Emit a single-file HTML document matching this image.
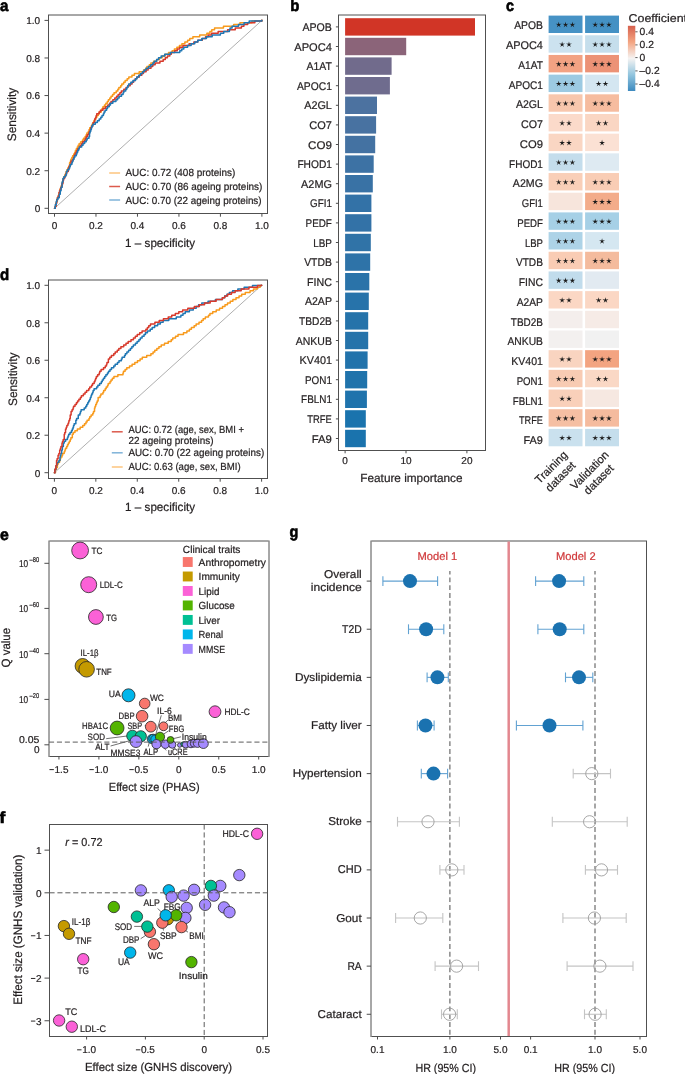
<!DOCTYPE html>
<html><head><meta charset="utf-8"><title>Figure</title>
<style>
html,body{margin:0;padding:0;background:#fff;}
body{width:685px;height:1074px;overflow:hidden;}
svg{display:block;will-change:transform;}
text{font-family:"Liberation Sans", sans-serif;text-rendering:geometricPrecision;}
</style></head><body>
<svg width="685" height="1074" viewBox="0 0 685 1074">
<rect x="0" y="0" width="685" height="1074" fill="#fff"/>
<line x1="48.50" y1="14.50" x2="48.50" y2="214.00" stroke="#505050" stroke-width="1" />
<line x1="267.50" y1="14.50" x2="267.50" y2="214.00" stroke="#505050" stroke-width="1" />
<line x1="49.00" y1="15.00" x2="267.00" y2="15.00" stroke="#505050" stroke-width="1" />
<line x1="49.00" y1="213.50" x2="267.00" y2="213.50" stroke="#505050" stroke-width="1" />
<line x1="44.50" y1="208.30" x2="48.50" y2="208.30" stroke="#4d4d4d" stroke-width="1" />
<text x="40.20" y="212.18" font-size="10" text-anchor="end" fill="#231f20" stroke="#231f20" stroke-width="0.22" >0</text>
<line x1="54.50" y1="213.50" x2="54.50" y2="216.70" stroke="#4d4d4d" stroke-width="1" />
<text x="54.50" y="228.88" font-size="10" text-anchor="middle" fill="#231f20" stroke="#231f20" stroke-width="0.22" >0</text>
<line x1="44.50" y1="170.72" x2="48.50" y2="170.72" stroke="#4d4d4d" stroke-width="1" />
<text x="40.20" y="174.60" font-size="10" text-anchor="end" fill="#231f20" stroke="#231f20" stroke-width="0.22" >0.2</text>
<line x1="95.98" y1="213.50" x2="95.98" y2="216.70" stroke="#4d4d4d" stroke-width="1" />
<text x="95.98" y="228.88" font-size="10" text-anchor="middle" fill="#231f20" stroke="#231f20" stroke-width="0.22" >0.2</text>
<line x1="44.50" y1="133.14" x2="48.50" y2="133.14" stroke="#4d4d4d" stroke-width="1" />
<text x="40.20" y="137.02" font-size="10" text-anchor="end" fill="#231f20" stroke="#231f20" stroke-width="0.22" >0.4</text>
<line x1="137.46" y1="213.50" x2="137.46" y2="216.70" stroke="#4d4d4d" stroke-width="1" />
<text x="137.46" y="228.88" font-size="10" text-anchor="middle" fill="#231f20" stroke="#231f20" stroke-width="0.22" >0.4</text>
<line x1="44.50" y1="95.56" x2="48.50" y2="95.56" stroke="#4d4d4d" stroke-width="1" />
<text x="40.20" y="99.44" font-size="10" text-anchor="end" fill="#231f20" stroke="#231f20" stroke-width="0.22" >0.6</text>
<line x1="178.94" y1="213.50" x2="178.94" y2="216.70" stroke="#4d4d4d" stroke-width="1" />
<text x="178.94" y="228.88" font-size="10" text-anchor="middle" fill="#231f20" stroke="#231f20" stroke-width="0.22" >0.6</text>
<line x1="44.50" y1="57.98" x2="48.50" y2="57.98" stroke="#4d4d4d" stroke-width="1" />
<text x="40.20" y="61.86" font-size="10" text-anchor="end" fill="#231f20" stroke="#231f20" stroke-width="0.22" >0.8</text>
<line x1="220.42" y1="213.50" x2="220.42" y2="216.70" stroke="#4d4d4d" stroke-width="1" />
<text x="220.42" y="228.88" font-size="10" text-anchor="middle" fill="#231f20" stroke="#231f20" stroke-width="0.22" >0.8</text>
<line x1="44.50" y1="20.40" x2="48.50" y2="20.40" stroke="#4d4d4d" stroke-width="1" />
<text x="40.20" y="24.28" font-size="10" text-anchor="end" fill="#231f20" stroke="#231f20" stroke-width="0.22" >1.0</text>
<line x1="261.90" y1="213.50" x2="261.90" y2="216.70" stroke="#4d4d4d" stroke-width="1" />
<text x="261.90" y="228.88" font-size="10" text-anchor="middle" fill="#231f20" stroke="#231f20" stroke-width="0.22" >1.0</text>
<line x1="54.50" y1="208.30" x2="261.90" y2="20.40" stroke="#a6a6a6" stroke-width="0.9" />
<polyline points="54.50,208.30 55.09,208.30 55.09,206.55 55.87,206.55 55.87,203.05 56.54,203.05 56.54,201.30 57.35,201.30 57.35,197.80 58.18,197.80 58.18,196.05 58.67,196.05 58.67,194.30 59.13,194.30 59.13,192.55 60.08,192.55 60.08,189.05 60.68,189.05 60.68,187.30 61.27,187.30 61.27,185.55 62.32,185.55 62.32,182.05 63.05,182.05 63.05,178.55 64.01,178.55 64.01,176.80 64.74,176.80 64.74,175.05 65.58,175.05 65.58,173.30 66.12,173.30 66.12,171.55 66.95,171.55 66.95,169.80 67.92,169.80 67.92,168.05 68.68,168.05 68.68,166.30 69.58,166.30 69.58,162.80 70.43,162.80 70.43,161.05 70.92,161.05 70.92,159.30 71.82,159.30 71.82,157.55 72.63,157.55 72.63,155.80 73.73,155.80 73.73,154.05 74.70,154.05 74.70,152.30 75.43,152.30 75.43,150.55 76.31,150.55 76.31,148.80 77.29,148.80 77.29,147.05 78.17,147.05 78.17,145.30 79.17,145.30 79.17,143.55 80.79,143.55 80.79,141.80 82.51,141.80 82.51,140.05 83.49,140.05 83.49,138.30 85.11,138.30 85.11,136.55 86.14,136.55 86.14,134.80 86.85,134.80 86.85,133.05 88.31,133.05 88.31,131.30 89.06,131.30 89.06,129.55 89.75,129.55 89.75,127.80 91.21,127.80 91.21,126.05 92.01,126.05 92.01,124.30 93.00,124.30 93.00,122.55 93.86,122.55 93.86,120.80 94.87,120.80 94.87,119.05 95.83,119.05 95.83,117.30 96.88,117.30 96.88,115.55 98.28,115.55 98.28,113.80 99.24,113.80 99.24,112.05 101.26,112.05 101.26,110.30 102.06,110.30 102.06,108.55 102.93,108.55 102.93,106.80 104.46,106.80 104.46,105.05 105.87,105.05 105.87,103.30 107.33,103.30 107.33,101.55 108.37,101.55 108.37,99.80 109.80,99.80 109.80,98.05 111.04,98.05 111.04,96.30 112.58,96.30 112.58,94.55 114.03,94.55 114.03,92.80 116.20,92.80 116.20,91.05 117.83,91.05 117.83,89.30 118.87,89.30 118.87,87.55 120.67,87.55 120.67,85.80 121.80,85.80 121.80,84.05 123.65,84.05 123.65,82.30 125.16,82.30 125.16,80.55 127.15,80.55 127.15,78.80 128.82,78.80 128.82,77.05 131.97,77.05 131.97,75.30 134.40,75.30 134.40,73.55 139.17,73.55 139.17,71.80 143.54,71.80 143.54,70.05 145.62,70.05 145.62,68.30 146.93,68.30 146.93,66.55 149.35,66.55 149.35,64.80 150.88,64.80 150.88,63.05 153.58,63.05 153.58,61.30 156.74,61.30 156.74,59.55 159.36,59.55 159.36,57.80 162.38,57.80 162.38,56.05 165.17,56.05 165.17,54.30 168.55,54.30 168.55,52.55 172.17,52.55 172.17,50.80 174.40,50.80 174.40,49.05 176.88,49.05 176.88,47.30 179.47,47.30 179.47,45.55 181.92,45.55 181.92,43.80 184.87,43.80 184.87,42.05 187.61,42.05 187.61,40.30 189.81,40.30 189.81,38.55 192.91,38.55 192.91,36.80 199.68,36.80 199.68,35.05 206.88,35.05 206.88,33.30 209.91,33.30 209.91,31.55 211.78,31.55 211.78,29.80 214.55,29.80 214.55,28.05 223.46,28.05 223.46,26.30 233.69,26.30 233.69,24.55 239.93,24.55 239.93,22.80 251.98,22.80 251.98,21.05 261.90,21.05 261.90,20.30" fill="none" stroke="#f89a1c" stroke-width="1.5" stroke-linejoin="round" stroke-linecap="round"/>
<polyline points="54.50,208.30 55.20,208.30 55.20,206.55 56.07,206.55 56.07,203.05 56.80,203.05 56.80,199.55 57.39,199.55 57.39,197.80 58.16,197.80 58.16,196.05 59.03,196.05 59.03,192.55 59.52,192.55 59.52,190.80 60.23,190.80 60.23,189.05 60.93,189.05 60.93,187.30 61.91,187.30 61.91,183.80 62.92,183.80 62.92,180.30 63.60,180.30 63.60,178.55 64.59,178.55 64.59,176.80 65.51,176.80 65.51,175.05 66.12,175.05 66.12,173.30 66.85,173.30 66.85,171.55 68.31,171.55 68.31,168.05 69.16,168.05 69.16,166.30 70.14,166.30 70.14,164.55 71.06,164.55 71.06,161.05 72.81,161.05 72.81,159.30 73.59,159.30 73.59,157.55 74.11,157.55 74.11,155.80 74.91,155.80 74.91,154.05 75.90,154.05 75.90,152.30 76.81,152.30 76.81,150.55 77.79,150.55 77.79,148.80 79.28,148.80 79.28,147.05 80.30,147.05 80.30,145.30 81.78,145.30 81.78,143.55 82.74,143.55 82.74,141.80 84.54,141.80 84.54,140.05 85.56,140.05 85.56,138.30 86.36,138.30 86.36,136.55 87.29,136.55 87.29,134.80 88.67,134.80 88.67,133.05 89.43,133.05 89.43,131.30 90.31,131.30 90.31,129.55 90.82,129.55 90.82,127.80 91.72,127.80 91.72,126.05 92.73,126.05 92.73,124.30 93.22,124.30 93.22,122.55 94.65,122.55 94.65,119.05 95.60,119.05 95.60,117.30 96.20,117.30 96.20,115.55 96.75,115.55 96.75,113.80 99.07,113.80 99.07,112.05 100.43,112.05 100.43,110.30 102.98,110.30 102.98,108.55 105.46,108.55 105.46,106.80 107.77,106.80 107.77,105.05 109.53,105.05 109.53,103.30 111.03,103.30 111.03,101.55 112.85,101.55 112.85,99.80 114.80,99.80 114.80,98.05 116.56,98.05 116.56,96.30 118.16,96.30 118.16,94.55 119.90,94.55 119.90,92.80 121.34,92.80 121.34,91.05 123.82,91.05 123.82,89.30 126.01,89.30 126.01,87.55 127.78,87.55 127.78,85.80 130.17,85.80 130.17,84.05 132.07,84.05 132.07,82.30 133.63,82.30 133.63,80.55 135.21,80.55 135.21,78.80 136.75,78.80 136.75,77.05 139.38,77.05 139.38,75.30 141.78,75.30 141.78,73.55 143.44,73.55 143.44,71.80 146.09,71.80 146.09,70.05 148.14,70.05 148.14,68.30 150.99,68.30 150.99,66.55 152.75,66.55 152.75,64.80 155.15,64.80 155.15,63.05 159.94,63.05 159.94,61.30 163.19,61.30 163.19,59.55 165.30,59.55 165.30,57.80 167.40,57.80 167.40,56.05 169.80,56.05 169.80,54.30 171.26,54.30 171.26,52.55 174.75,52.55 174.75,50.80 177.27,50.80 177.27,49.05 179.76,49.05 179.76,47.30 183.02,47.30 183.02,45.55 189.11,45.55 189.11,43.80 193.86,43.80 193.86,42.05 197.78,42.05 197.78,40.30 202.27,40.30 202.27,38.55 205.56,38.55 205.56,36.80 208.14,36.80 208.14,35.05 211.54,35.05 211.54,33.30 218.16,33.30 218.16,31.55 227.63,31.55 227.63,29.80 235.28,29.80 235.28,28.05 241.41,28.05 241.41,26.30 243.87,26.30 243.87,24.55 247.67,24.55 247.67,22.80 254.86,22.80 254.86,21.05 261.90,21.05 261.90,20.30" fill="none" stroke="#d7392b" stroke-width="1.5" stroke-linejoin="round" stroke-linecap="round"/>
<polyline points="54.50,208.30 55.27,208.30 55.27,204.80 56.28,204.80 56.28,201.30 56.93,201.30 56.93,199.55 57.90,199.55 57.90,197.80 59.29,197.80 59.29,194.30 60.26,194.30 60.26,190.80 61.07,190.80 61.07,187.30 62.08,187.30 62.08,182.05 62.96,182.05 62.96,178.55 63.85,178.55 63.85,176.80 65.44,176.80 65.44,175.05 66.45,175.05 66.45,171.55 67.42,171.55 67.42,169.80 69.03,169.80 69.03,168.05 69.77,168.05 69.77,166.30 70.29,166.30 70.29,164.55 71.83,164.55 71.83,162.80 72.38,162.80 72.38,161.05 73.13,161.05 73.13,159.30 74.00,159.30 74.00,157.55 74.77,157.55 74.77,155.80 76.31,155.80 76.31,154.05 76.94,154.05 76.94,152.30 77.67,152.30 77.67,150.55 78.58,150.55 78.58,148.80 79.27,148.80 79.27,147.05 81.70,147.05 81.70,145.30 83.04,145.30 83.04,143.55 84.62,143.55 84.62,141.80 86.23,141.80 86.23,140.05 87.15,140.05 87.15,138.30 88.98,138.30 88.98,136.55 89.55,136.55 89.55,133.05 90.10,133.05 90.10,131.30 90.80,131.30 90.80,129.55 91.35,129.55 91.35,127.80 91.81,127.80 91.81,126.05 92.88,126.05 92.88,124.30 95.29,124.30 95.29,122.55 97.34,122.55 97.34,120.80 99.19,120.80 99.19,119.05 100.80,119.05 100.80,117.30 102.04,117.30 102.04,115.55 103.41,115.55 103.41,113.80 104.07,113.80 104.07,112.05 105.07,112.05 105.07,110.30 106.58,110.30 106.58,108.55 107.50,108.55 107.50,106.80 109.24,106.80 109.24,105.05 110.47,105.05 110.47,103.30 112.84,103.30 112.84,101.55 115.90,101.55 115.90,99.80 117.62,99.80 117.62,98.05 119.15,98.05 119.15,96.30 121.47,96.30 121.47,94.55 123.07,94.55 123.07,92.80 123.81,92.80 123.81,91.05 125.74,91.05 125.74,89.30 126.75,89.30 126.75,87.55 127.86,87.55 127.86,85.80 128.67,85.80 128.67,84.05 130.82,84.05 130.82,82.30 132.98,82.30 132.98,80.55 135.50,80.55 135.50,78.80 136.95,78.80 136.95,77.05 138.79,77.05 138.79,75.30 140.57,75.30 140.57,73.55 142.53,73.55 142.53,71.80 144.18,71.80 144.18,70.05 146.23,70.05 146.23,68.30 148.60,68.30 148.60,66.55 150.76,66.55 150.76,64.80 152.86,64.80 152.86,63.05 154.23,63.05 154.23,61.30 156.61,61.30 156.61,59.55 158.56,59.55 158.56,57.80 161.16,57.80 161.16,56.05 164.69,56.05 164.69,54.30 170.30,54.30 170.30,52.55 179.79,52.55 179.79,50.80 181.75,50.80 181.75,49.05 183.81,49.05 183.81,47.30 187.56,47.30 187.56,45.55 191.10,45.55 191.10,43.80 194.75,43.80 194.75,42.05 197.84,42.05 197.84,40.30 201.85,40.30 201.85,38.55 206.45,38.55 206.45,36.80 212.16,36.80 212.16,35.05 220.37,35.05 220.37,33.30 223.74,33.30 223.74,31.55 229.38,31.55 229.38,29.80 230.01,29.80 230.01,28.05 232.08,28.05 232.08,26.30 238.51,26.30 238.51,24.55 244.10,24.55 244.10,22.80 249.20,22.80 249.20,21.05 261.90,21.05 261.90,20.30" fill="none" stroke="#1f77b4" stroke-width="1.5" stroke-linejoin="round" stroke-linecap="round"/>
<line x1="109.20" y1="173.00" x2="120.10" y2="173.00" stroke="#fdc57e" stroke-width="1.5" />
<line x1="109.20" y1="186.50" x2="120.10" y2="186.50" stroke="#dc5a4c" stroke-width="1.5" />
<line x1="109.20" y1="200.00" x2="120.10" y2="200.00" stroke="#7fb3d9" stroke-width="1.5" />
<text x="0.00" y="11.15" font-size="16" font-weight="bold" fill="#000" stroke="#000" stroke-width="0.6" textLength="8.40" lengthAdjust="spacingAndGlyphs">a</text>
<text transform="translate(11.20,114.50) rotate(-90)" x="0" y="0" font-size="12.2" text-anchor="middle" fill="#231f20" stroke="#231f20" stroke-width="0.22" dy="4.3" textLength="53.5" lengthAdjust="spacingAndGlyphs">Sensitivity</text>
<text x="125.10" y="247.36" font-size="11.9" text-anchor="start" fill="#231f20" stroke="#231f20" stroke-width="0.22"  textLength="70.00" lengthAdjust="spacingAndGlyphs">1 – specificity</text>
<text x="125.50" y="176.09" font-size="10.3" text-anchor="start" fill="#231f20" stroke="#231f20" stroke-width="0.22"  textLength="109.80" lengthAdjust="spacingAndGlyphs">AUC: 0.72 (408 proteins)</text>
<text x="125.50" y="189.79" font-size="10.3" text-anchor="start" fill="#231f20" stroke="#231f20" stroke-width="0.22"  textLength="136.90" lengthAdjust="spacingAndGlyphs">AUC: 0.70 (86 ageing proteins)</text>
<text x="125.50" y="203.59" font-size="10.3" text-anchor="start" fill="#231f20" stroke="#231f20" stroke-width="0.22"  textLength="136.10" lengthAdjust="spacingAndGlyphs">AUC: 0.70 (22 ageing proteins)</text>
<line x1="48.50" y1="279.50" x2="48.50" y2="479.00" stroke="#505050" stroke-width="1" />
<line x1="267.50" y1="279.50" x2="267.50" y2="479.00" stroke="#505050" stroke-width="1" />
<line x1="49.00" y1="280.00" x2="267.00" y2="280.00" stroke="#505050" stroke-width="1" />
<line x1="49.00" y1="478.50" x2="267.00" y2="478.50" stroke="#505050" stroke-width="1" />
<line x1="44.50" y1="472.70" x2="48.50" y2="472.70" stroke="#4d4d4d" stroke-width="1" />
<text x="40.20" y="476.58" font-size="10" text-anchor="end" fill="#231f20" stroke="#231f20" stroke-width="0.22" >0</text>
<line x1="54.40" y1="478.50" x2="54.40" y2="481.70" stroke="#4d4d4d" stroke-width="1" />
<text x="54.40" y="493.88" font-size="10" text-anchor="middle" fill="#231f20" stroke="#231f20" stroke-width="0.22" >0</text>
<line x1="44.50" y1="435.22" x2="48.50" y2="435.22" stroke="#4d4d4d" stroke-width="1" />
<text x="40.20" y="439.10" font-size="10" text-anchor="end" fill="#231f20" stroke="#231f20" stroke-width="0.22" >0.2</text>
<line x1="95.84" y1="478.50" x2="95.84" y2="481.70" stroke="#4d4d4d" stroke-width="1" />
<text x="95.84" y="493.88" font-size="10" text-anchor="middle" fill="#231f20" stroke="#231f20" stroke-width="0.22" >0.2</text>
<line x1="44.50" y1="397.74" x2="48.50" y2="397.74" stroke="#4d4d4d" stroke-width="1" />
<text x="40.20" y="401.62" font-size="10" text-anchor="end" fill="#231f20" stroke="#231f20" stroke-width="0.22" >0.4</text>
<line x1="137.28" y1="478.50" x2="137.28" y2="481.70" stroke="#4d4d4d" stroke-width="1" />
<text x="137.28" y="493.88" font-size="10" text-anchor="middle" fill="#231f20" stroke="#231f20" stroke-width="0.22" >0.4</text>
<line x1="44.50" y1="360.26" x2="48.50" y2="360.26" stroke="#4d4d4d" stroke-width="1" />
<text x="40.20" y="364.14" font-size="10" text-anchor="end" fill="#231f20" stroke="#231f20" stroke-width="0.22" >0.6</text>
<line x1="178.72" y1="478.50" x2="178.72" y2="481.70" stroke="#4d4d4d" stroke-width="1" />
<text x="178.72" y="493.88" font-size="10" text-anchor="middle" fill="#231f20" stroke="#231f20" stroke-width="0.22" >0.6</text>
<line x1="44.50" y1="322.78" x2="48.50" y2="322.78" stroke="#4d4d4d" stroke-width="1" />
<text x="40.20" y="326.66" font-size="10" text-anchor="end" fill="#231f20" stroke="#231f20" stroke-width="0.22" >0.8</text>
<line x1="220.16" y1="478.50" x2="220.16" y2="481.70" stroke="#4d4d4d" stroke-width="1" />
<text x="220.16" y="493.88" font-size="10" text-anchor="middle" fill="#231f20" stroke="#231f20" stroke-width="0.22" >0.8</text>
<line x1="44.50" y1="285.30" x2="48.50" y2="285.30" stroke="#4d4d4d" stroke-width="1" />
<text x="40.20" y="289.18" font-size="10" text-anchor="end" fill="#231f20" stroke="#231f20" stroke-width="0.22" >1.0</text>
<line x1="261.60" y1="478.50" x2="261.60" y2="481.70" stroke="#4d4d4d" stroke-width="1" />
<text x="261.60" y="493.88" font-size="10" text-anchor="middle" fill="#231f20" stroke="#231f20" stroke-width="0.22" >1.0</text>
<line x1="54.40" y1="472.70" x2="261.60" y2="285.30" stroke="#a6a6a6" stroke-width="0.9" />
<polyline points="54.40,472.70 55.44,472.70 55.44,469.20 56.36,469.20 56.36,467.45 57.40,467.45 57.40,463.95 58.43,463.95 58.43,462.20 59.60,462.20 59.60,460.45 60.25,460.45 60.25,458.70 60.73,458.70 60.73,456.95 62.01,456.95 62.01,455.20 62.65,455.20 62.65,453.45 64.18,453.45 64.18,451.70 64.88,451.70 64.88,449.95 65.49,449.95 65.49,448.20 66.67,448.20 66.67,446.45 67.50,446.45 67.50,444.70 68.35,444.70 68.35,442.95 69.35,442.95 69.35,441.20 70.29,441.20 70.29,439.45 70.88,439.45 70.88,437.70 72.32,437.70 72.32,434.20 73.24,434.20 73.24,432.45 74.95,432.45 74.95,430.70 77.36,430.70 77.36,428.95 80.18,428.95 80.18,427.20 82.76,427.20 82.76,425.45 84.51,425.45 84.51,423.70 85.97,423.70 85.97,421.95 87.09,421.95 87.09,420.20 88.99,420.20 88.99,418.45 89.77,418.45 89.77,416.70 91.12,416.70 91.12,414.95 92.78,414.95 92.78,413.20 93.50,413.20 93.50,411.45 94.53,411.45 94.53,407.95 95.07,407.95 95.07,406.20 95.71,406.20 95.71,404.45 96.47,404.45 96.47,402.70 97.17,402.70 97.17,400.95 98.13,400.95 98.13,397.45 100.09,397.45 100.09,395.70 100.90,395.70 100.90,393.95 102.95,393.95 102.95,392.20 103.69,392.20 103.69,390.45 105.18,390.45 105.18,388.70 106.18,388.70 106.18,386.95 107.54,386.95 107.54,385.20 108.21,385.20 108.21,383.45 109.96,383.45 109.96,381.70 110.99,381.70 110.99,379.95 112.39,379.95 112.39,378.20 113.95,378.20 113.95,376.45 117.85,376.45 117.85,374.70 122.98,374.70 122.98,372.95 123.48,372.95 123.48,371.20 125.13,371.20 125.13,369.45 126.79,369.45 126.79,367.70 129.52,367.70 129.52,365.95 132.11,365.95 132.11,364.20 134.84,364.20 134.84,362.45 137.48,362.45 137.48,360.70 140.07,360.70 140.07,358.95 142.30,358.95 142.30,357.20 146.73,357.20 146.73,355.45 150.88,355.45 150.88,353.70 153.07,353.70 153.07,351.95 154.79,351.95 154.79,350.20 156.86,350.20 156.86,348.45 158.92,348.45 158.92,346.70 161.22,346.70 161.22,344.95 164.49,344.95 164.49,343.20 168.22,343.20 168.22,341.45 171.20,341.45 171.20,339.70 172.72,339.70 172.72,337.95 175.50,337.95 175.50,336.20 178.04,336.20 178.04,334.45 183.48,334.45 183.48,332.70 186.88,332.70 186.88,330.95 189.41,330.95 189.41,329.20 191.41,329.20 191.41,327.45 194.15,327.45 194.15,325.70 196.13,325.70 196.13,323.95 199.00,323.95 199.00,322.20 201.54,322.20 201.54,320.45 203.18,320.45 203.18,318.70 205.35,318.70 205.35,316.95 208.49,316.95 208.49,315.20 209.95,315.20 209.95,313.45 212.73,313.45 212.73,311.70 216.23,311.70 216.23,309.95 219.56,309.95 219.56,308.20 222.52,308.20 222.52,306.45 224.99,306.45 224.99,304.70 227.51,304.70 227.51,302.95 230.25,302.95 230.25,301.20 232.87,301.20 232.87,299.45 236.01,299.45 236.01,297.70 239.02,297.70 239.02,295.95 241.68,295.95 241.68,294.20 245.29,294.20 245.29,292.45 250.05,292.45 250.05,290.70 253.49,290.70 253.49,288.95 257.20,288.95 257.20,287.20 260.17,287.20 260.17,285.45 261.60,285.45 261.60,285.30" fill="none" stroke="#f89a1c" stroke-width="1.5" stroke-linejoin="round" stroke-linecap="round"/>
<polyline points="54.40,472.70 54.91,472.70 54.91,469.20 55.95,469.20 55.95,465.70 56.81,465.70 56.81,463.95 57.31,463.95 57.31,462.20 58.93,462.20 58.93,460.45 59.97,460.45 59.97,456.95 60.46,456.95 60.46,455.20 60.92,455.20 60.92,453.45 61.66,453.45 61.66,449.95 62.36,449.95 62.36,446.45 63.35,446.45 63.35,442.95 64.29,442.95 64.29,441.20 65.64,441.20 65.64,439.45 67.42,439.45 67.42,437.70 67.99,437.70 67.99,435.95 68.68,435.95 68.68,434.20 70.02,434.20 70.02,432.45 71.49,432.45 71.49,430.70 72.26,430.70 72.26,428.95 73.05,428.95 73.05,427.20 73.55,427.20 73.55,425.45 74.14,425.45 74.14,423.70 75.84,423.70 75.84,420.20 76.61,420.20 76.61,418.45 78.27,418.45 78.27,414.95 79.89,414.95 79.89,413.20 80.46,413.20 80.46,411.45 81.09,411.45 81.09,409.70 84.20,409.70 84.20,407.95 85.77,407.95 85.77,406.20 86.77,406.20 86.77,404.45 87.73,404.45 87.73,402.70 88.62,402.70 88.62,400.95 89.68,400.95 89.68,399.20 90.39,399.20 90.39,397.45 91.03,397.45 91.03,395.70 91.60,395.70 91.60,393.95 92.57,393.95 92.57,392.20 93.15,392.20 93.15,390.45 94.09,390.45 94.09,388.70 96.62,388.70 96.62,386.95 97.89,386.95 97.89,385.20 99.67,385.20 99.67,383.45 101.31,383.45 101.31,381.70 102.26,381.70 102.26,379.95 103.44,379.95 103.44,378.20 104.68,378.20 104.68,376.45 105.89,376.45 105.89,374.70 107.41,374.70 107.41,372.95 108.51,372.95 108.51,371.20 110.01,371.20 110.01,369.45 111.48,369.45 111.48,367.70 113.73,367.70 113.73,365.95 115.18,365.95 115.18,364.20 117.45,364.20 117.45,362.45 118.99,362.45 118.99,360.70 121.36,360.70 121.36,358.95 122.11,358.95 122.11,357.20 124.51,357.20 124.51,355.45 125.37,355.45 125.37,353.70 126.89,353.70 126.89,351.95 128.59,351.95 128.59,350.20 130.38,350.20 130.38,348.45 131.82,348.45 131.82,346.70 133.36,346.70 133.36,344.95 135.44,344.95 135.44,343.20 137.14,343.20 137.14,341.45 138.88,341.45 138.88,339.70 140.34,339.70 140.34,337.95 142.09,337.95 142.09,336.20 144.07,336.20 144.07,334.45 145.48,334.45 145.48,332.70 147.45,332.70 147.45,330.95 150.22,330.95 150.22,329.20 152.20,329.20 152.20,327.45 154.61,327.45 154.61,325.70 157.60,325.70 157.60,323.95 160.37,323.95 160.37,322.20 163.14,322.20 163.14,320.45 168.81,320.45 168.81,318.70 176.27,318.70 176.27,316.95 180.89,316.95 180.89,315.20 183.00,315.20 183.00,313.45 185.20,313.45 185.20,311.70 189.39,311.70 189.39,309.95 193.28,309.95 193.28,308.20 196.19,308.20 196.19,306.45 198.60,306.45 198.60,304.70 201.81,304.70 201.81,302.95 208.05,302.95 208.05,301.20 215.41,301.20 215.41,299.45 222.41,299.45 222.41,297.70 224.62,297.70 224.62,295.95 226.96,295.95 226.96,294.20 229.37,294.20 229.37,292.45 232.64,292.45 232.64,290.70 237.84,290.70 237.84,288.95 244.14,288.95 244.14,287.20 252.50,287.20 252.50,285.45 261.60,285.45 261.60,285.30" fill="none" stroke="#1f77b4" stroke-width="1.5" stroke-linejoin="round" stroke-linecap="round"/>
<polyline points="54.40,472.70 54.89,472.70 54.89,469.20 55.81,469.20 55.81,465.70 56.56,465.70 56.56,460.45 57.07,460.45 57.07,458.70 58.08,458.70 58.08,455.20 58.88,455.20 58.88,453.45 59.70,453.45 59.70,449.95 60.42,449.95 60.42,448.20 60.94,448.20 60.94,446.45 61.99,446.45 61.99,442.95 62.54,442.95 62.54,441.20 63.21,441.20 63.21,439.45 64.26,439.45 64.26,434.20 64.79,434.20 64.79,432.45 65.54,432.45 65.54,428.95 66.27,428.95 66.27,427.20 66.87,427.20 66.87,425.45 67.88,425.45 67.88,423.70 68.58,423.70 68.58,421.95 69.03,421.95 69.03,420.20 69.77,420.20 69.77,418.45 70.22,418.45 70.22,414.95 71.09,414.95 71.09,411.45 72.07,411.45 72.07,409.70 73.06,409.70 73.06,407.95 73.54,407.95 73.54,406.20 75.03,406.20 75.03,404.45 76.39,404.45 76.39,402.70 77.55,402.70 77.55,400.95 78.88,400.95 78.88,399.20 80.39,399.20 80.39,397.45 81.41,397.45 81.41,395.70 83.38,395.70 83.38,393.95 85.06,393.95 85.06,392.20 86.64,392.20 86.64,390.45 88.75,390.45 88.75,388.70 89.78,388.70 89.78,386.95 91.58,386.95 91.58,385.20 92.58,385.20 92.58,383.45 94.16,383.45 94.16,381.70 94.95,381.70 94.95,379.95 95.63,379.95 95.63,378.20 96.36,378.20 96.36,376.45 97.64,376.45 97.64,374.70 99.17,374.70 99.17,372.95 99.77,372.95 99.77,371.20 101.11,371.20 101.11,369.45 103.51,369.45 103.51,367.70 105.27,367.70 105.27,365.95 106.50,365.95 106.50,364.20 106.98,364.20 106.98,362.45 108.38,362.45 108.38,358.95 109.79,358.95 109.79,357.20 111.41,357.20 111.41,355.45 113.75,355.45 113.75,353.70 115.19,353.70 115.19,351.95 117.26,351.95 117.26,350.20 118.83,350.20 118.83,348.45 120.91,348.45 120.91,346.70 123.71,346.70 123.71,344.95 126.02,344.95 126.02,343.20 128.19,343.20 128.19,341.45 130.99,341.45 130.99,339.70 133.44,339.70 133.44,337.95 135.35,337.95 135.35,336.20 137.27,336.20 137.27,334.45 139.71,334.45 139.71,332.70 142.06,332.70 142.06,330.95 145.89,330.95 145.89,329.20 147.41,329.20 147.41,327.45 148.76,327.45 148.76,325.70 150.48,325.70 150.48,323.95 154.92,323.95 154.92,322.20 159.21,322.20 159.21,320.45 163.43,320.45 163.43,318.70 168.25,318.70 168.25,316.95 171.76,316.95 171.76,315.20 175.32,315.20 175.32,313.45 178.81,313.45 178.81,311.70 182.64,311.70 182.64,309.95 187.81,309.95 187.81,308.20 194.35,308.20 194.35,306.45 199.39,306.45 199.39,304.70 204.53,304.70 204.53,302.95 210.17,302.95 210.17,301.20 216.11,301.20 216.11,299.45 222.35,299.45 222.35,297.70 224.84,297.70 224.84,295.95 227.66,295.95 227.66,294.20 231.39,294.20 231.39,292.45 235.13,292.45 235.13,290.70 241.20,290.70 241.20,288.95 248.95,288.95 248.95,287.20 257.53,287.20 257.53,285.45 261.60,285.45 261.60,285.30" fill="none" stroke="#d7392b" stroke-width="1.5" stroke-linejoin="round" stroke-linecap="round"/>
<line x1="111.80" y1="431.80" x2="122.70" y2="431.80" stroke="#dc5a4c" stroke-width="1.5" />
<line x1="111.80" y1="452.80" x2="122.70" y2="452.80" stroke="#7fb3d9" stroke-width="1.5" />
<line x1="111.80" y1="467.00" x2="122.70" y2="467.00" stroke="#fdc57e" stroke-width="1.5" />
<text x="0.00" y="280.15" font-size="16" font-weight="bold" fill="#000" stroke="#000" stroke-width="0.6" textLength="9.20" lengthAdjust="spacingAndGlyphs">d</text>
<text transform="translate(12.30,379.30) rotate(-90)" x="0" y="0" font-size="12.2" text-anchor="middle" fill="#231f20" stroke="#231f20" stroke-width="0.22" dy="4.3" textLength="53.5" lengthAdjust="spacingAndGlyphs">Sensitivity</text>
<text x="125.10" y="510.66" font-size="11.9" text-anchor="start" fill="#231f20" stroke="#231f20" stroke-width="0.22"  textLength="70.00" lengthAdjust="spacingAndGlyphs">1 – specificity</text>
<text x="128.40" y="433.39" font-size="10.3" text-anchor="start" fill="#231f20" stroke="#231f20" stroke-width="0.22"  textLength="115.60" lengthAdjust="spacingAndGlyphs">AUC: 0.72 (age, sex, BMI +</text>
<text x="128.40" y="444.39" font-size="10.3" text-anchor="start" fill="#231f20" stroke="#231f20" stroke-width="0.22"  textLength="85.10" lengthAdjust="spacingAndGlyphs">22 ageing proteins)</text>
<text x="128.40" y="456.09" font-size="10.3" text-anchor="start" fill="#231f20" stroke="#231f20" stroke-width="0.22"  textLength="135.80" lengthAdjust="spacingAndGlyphs">AUC: 0.70 (22 ageing proteins)</text>
<text x="128.40" y="470.29" font-size="10.3" text-anchor="start" fill="#231f20" stroke="#231f20" stroke-width="0.22"  textLength="112.20" lengthAdjust="spacingAndGlyphs">AUC: 0.63 (age, sex, BMI)</text>
<line x1="338.50" y1="14.50" x2="338.50" y2="451.00" stroke="#505050" stroke-width="1" />
<line x1="485.50" y1="14.50" x2="485.50" y2="451.00" stroke="#505050" stroke-width="1" />
<line x1="339.00" y1="15.00" x2="485.00" y2="15.00" stroke="#505050" stroke-width="1" />
<line x1="339.00" y1="450.50" x2="485.00" y2="450.50" stroke="#505050" stroke-width="1" />
<rect x="345.10" y="18.20" width="129.90" height="17.40" fill="#d13526" stroke="none" stroke-width="1" />
<line x1="335.90" y1="26.90" x2="338.50" y2="26.90" stroke="#4d4d4d" stroke-width="1" />
<text x="331.90" y="30.91" font-size="11.2" text-anchor="end" fill="#231f20" stroke="#231f20" stroke-width="0.22"  textLength="29.40" lengthAdjust="spacingAndGlyphs">APOB</text>
<rect x="345.10" y="37.80" width="61.10" height="17.40" fill="#8b6479" stroke="none" stroke-width="1" />
<line x1="335.90" y1="46.50" x2="338.50" y2="46.50" stroke="#4d4d4d" stroke-width="1" />
<text x="331.90" y="50.51" font-size="11.2" text-anchor="end" fill="#231f20" stroke="#231f20" stroke-width="0.22"  textLength="37.60" lengthAdjust="spacingAndGlyphs">APOC4</text>
<rect x="345.10" y="57.40" width="46.50" height="17.40" fill="#716b8c" stroke="none" stroke-width="1" />
<line x1="335.90" y1="66.10" x2="338.50" y2="66.10" stroke="#4d4d4d" stroke-width="1" />
<text x="331.90" y="70.11" font-size="11.2" text-anchor="end" fill="#231f20" stroke="#231f20" stroke-width="0.22"  textLength="25.30" lengthAdjust="spacingAndGlyphs">A1AT</text>
<rect x="345.10" y="77.00" width="44.80" height="17.40" fill="#6f6c8e" stroke="none" stroke-width="1" />
<line x1="335.90" y1="85.70" x2="338.50" y2="85.70" stroke="#4d4d4d" stroke-width="1" />
<text x="331.90" y="89.71" font-size="11.2" text-anchor="end" fill="#231f20" stroke="#231f20" stroke-width="0.22"  textLength="34.90" lengthAdjust="spacingAndGlyphs">APOC1</text>
<rect x="345.10" y="96.60" width="31.90" height="17.40" fill="#4c72a0" stroke="none" stroke-width="1" />
<line x1="335.90" y1="105.30" x2="338.50" y2="105.30" stroke="#4d4d4d" stroke-width="1" />
<text x="331.90" y="109.31" font-size="11.2" text-anchor="end" fill="#231f20" stroke="#231f20" stroke-width="0.22"  textLength="27.70" lengthAdjust="spacingAndGlyphs">A2GL</text>
<rect x="345.10" y="116.20" width="31.00" height="17.40" fill="#4872a1" stroke="none" stroke-width="1" />
<line x1="335.90" y1="124.90" x2="338.50" y2="124.90" stroke="#4d4d4d" stroke-width="1" />
<text x="331.90" y="128.91" font-size="11.2" text-anchor="end" fill="#231f20" stroke="#231f20" stroke-width="0.22"  textLength="22.60" lengthAdjust="spacingAndGlyphs">CO7</text>
<rect x="345.10" y="135.80" width="30.10" height="17.40" fill="#4472a2" stroke="none" stroke-width="1" />
<line x1="335.90" y1="144.50" x2="338.50" y2="144.50" stroke="#4d4d4d" stroke-width="1" />
<text x="331.90" y="148.51" font-size="11.2" text-anchor="end" fill="#231f20" stroke="#231f20" stroke-width="0.22"  textLength="23.80" lengthAdjust="spacingAndGlyphs">CO9</text>
<rect x="345.10" y="155.40" width="28.60" height="17.40" fill="#3d72a4" stroke="none" stroke-width="1" />
<line x1="335.90" y1="164.10" x2="338.50" y2="164.10" stroke="#4d4d4d" stroke-width="1" />
<text x="331.90" y="168.11" font-size="11.2" text-anchor="end" fill="#231f20" stroke="#231f20" stroke-width="0.22"  textLength="34.50" lengthAdjust="spacingAndGlyphs">FHOD1</text>
<rect x="345.10" y="175.00" width="27.70" height="17.40" fill="#3972a5" stroke="none" stroke-width="1" />
<line x1="335.90" y1="183.70" x2="338.50" y2="183.70" stroke="#4d4d4d" stroke-width="1" />
<text x="331.90" y="187.71" font-size="11.2" text-anchor="end" fill="#231f20" stroke="#231f20" stroke-width="0.22"  textLength="30.80" lengthAdjust="spacingAndGlyphs">A2MG</text>
<rect x="345.10" y="194.60" width="26.30" height="17.40" fill="#3372a7" stroke="none" stroke-width="1" />
<line x1="335.90" y1="203.30" x2="338.50" y2="203.30" stroke="#4d4d4d" stroke-width="1" />
<text x="331.90" y="207.31" font-size="11.2" text-anchor="end" fill="#231f20" stroke="#231f20" stroke-width="0.22"  textLength="21.80" lengthAdjust="spacingAndGlyphs">GFI1</text>
<rect x="345.10" y="214.20" width="26.30" height="17.40" fill="#3372a7" stroke="none" stroke-width="1" />
<line x1="335.90" y1="222.90" x2="338.50" y2="222.90" stroke="#4d4d4d" stroke-width="1" />
<text x="331.90" y="226.91" font-size="11.2" text-anchor="end" fill="#231f20" stroke="#231f20" stroke-width="0.22"  textLength="26.30" lengthAdjust="spacingAndGlyphs">PEDF</text>
<rect x="345.10" y="233.80" width="25.70" height="17.40" fill="#3073a7" stroke="none" stroke-width="1" />
<line x1="335.90" y1="242.50" x2="338.50" y2="242.50" stroke="#4d4d4d" stroke-width="1" />
<text x="331.90" y="246.51" font-size="11.2" text-anchor="end" fill="#231f20" stroke="#231f20" stroke-width="0.22"  textLength="18.70" lengthAdjust="spacingAndGlyphs">LBP</text>
<rect x="345.10" y="253.40" width="25.10" height="17.40" fill="#2e73a8" stroke="none" stroke-width="1" />
<line x1="335.90" y1="262.10" x2="338.50" y2="262.10" stroke="#4d4d4d" stroke-width="1" />
<text x="331.90" y="266.11" font-size="11.2" text-anchor="end" fill="#231f20" stroke="#231f20" stroke-width="0.22"  textLength="27.70" lengthAdjust="spacingAndGlyphs">VTDB</text>
<rect x="345.10" y="273.00" width="24.20" height="17.40" fill="#2a73a9" stroke="none" stroke-width="1" />
<line x1="335.90" y1="281.70" x2="338.50" y2="281.70" stroke="#4d4d4d" stroke-width="1" />
<text x="331.90" y="285.71" font-size="11.2" text-anchor="end" fill="#231f20" stroke="#231f20" stroke-width="0.22"  textLength="24.80" lengthAdjust="spacingAndGlyphs">FINC</text>
<rect x="345.10" y="292.60" width="23.70" height="17.40" fill="#2773aa" stroke="none" stroke-width="1" />
<line x1="335.90" y1="301.30" x2="338.50" y2="301.30" stroke="#4d4d4d" stroke-width="1" />
<text x="331.90" y="305.31" font-size="11.2" text-anchor="end" fill="#231f20" stroke="#231f20" stroke-width="0.22"  textLength="26.90" lengthAdjust="spacingAndGlyphs">A2AP</text>
<rect x="345.10" y="312.20" width="23.10" height="17.40" fill="#2573aa" stroke="none" stroke-width="1" />
<line x1="335.90" y1="320.90" x2="338.50" y2="320.90" stroke="#4d4d4d" stroke-width="1" />
<text x="331.90" y="324.91" font-size="11.2" text-anchor="end" fill="#231f20" stroke="#231f20" stroke-width="0.22"  textLength="32.80" lengthAdjust="spacingAndGlyphs">TBD2B</text>
<rect x="345.10" y="331.80" width="23.10" height="17.40" fill="#2573aa" stroke="none" stroke-width="1" />
<line x1="335.90" y1="340.50" x2="338.50" y2="340.50" stroke="#4d4d4d" stroke-width="1" />
<text x="331.90" y="344.51" font-size="11.2" text-anchor="end" fill="#231f20" stroke="#231f20" stroke-width="0.22"  textLength="36.10" lengthAdjust="spacingAndGlyphs">ANKUB</text>
<rect x="345.10" y="351.40" width="22.50" height="17.40" fill="#2273ab" stroke="none" stroke-width="1" />
<line x1="335.90" y1="360.10" x2="338.50" y2="360.10" stroke="#4d4d4d" stroke-width="1" />
<text x="331.90" y="364.11" font-size="11.2" text-anchor="end" fill="#231f20" stroke="#231f20" stroke-width="0.22"  textLength="32.40" lengthAdjust="spacingAndGlyphs">KV401</text>
<rect x="345.10" y="371.00" width="22.10" height="17.40" fill="#2073ab" stroke="none" stroke-width="1" />
<line x1="335.90" y1="379.70" x2="338.50" y2="379.70" stroke="#4d4d4d" stroke-width="1" />
<text x="331.90" y="383.71" font-size="11.2" text-anchor="end" fill="#231f20" stroke="#231f20" stroke-width="0.22"  textLength="26.90" lengthAdjust="spacingAndGlyphs">PON1</text>
<rect x="345.10" y="390.60" width="21.80" height="17.40" fill="#1f73ac" stroke="none" stroke-width="1" />
<line x1="335.90" y1="399.30" x2="338.50" y2="399.30" stroke="#4d4d4d" stroke-width="1" />
<text x="331.90" y="403.31" font-size="11.2" text-anchor="end" fill="#231f20" stroke="#231f20" stroke-width="0.22"  textLength="30.80" lengthAdjust="spacingAndGlyphs">FBLN1</text>
<rect x="345.10" y="410.20" width="20.70" height="17.40" fill="#1a73ad" stroke="none" stroke-width="1" />
<line x1="335.90" y1="418.90" x2="338.50" y2="418.90" stroke="#4d4d4d" stroke-width="1" />
<text x="331.90" y="422.91" font-size="11.2" text-anchor="end" fill="#231f20" stroke="#231f20" stroke-width="0.22"  textLength="24.60" lengthAdjust="spacingAndGlyphs">TRFE</text>
<rect x="345.10" y="429.80" width="20.70" height="17.40" fill="#1a73ad" stroke="none" stroke-width="1" />
<line x1="335.90" y1="438.50" x2="338.50" y2="438.50" stroke="#4d4d4d" stroke-width="1" />
<text x="331.90" y="442.51" font-size="11.2" text-anchor="end" fill="#231f20" stroke="#231f20" stroke-width="0.22"  textLength="20.10" lengthAdjust="spacingAndGlyphs">FA9</text>
<line x1="345.10" y1="450.50" x2="345.10" y2="453.30" stroke="#4d4d4d" stroke-width="1" />
<text x="345.10" y="464.18" font-size="10" text-anchor="middle" fill="#231f20" stroke="#231f20" stroke-width="0.22" >0</text>
<line x1="406.00" y1="450.50" x2="406.00" y2="453.30" stroke="#4d4d4d" stroke-width="1" />
<text x="406.00" y="464.18" font-size="10" text-anchor="middle" fill="#231f20" stroke="#231f20" stroke-width="0.22" >10</text>
<line x1="466.90" y1="450.50" x2="466.90" y2="453.30" stroke="#4d4d4d" stroke-width="1" />
<text x="466.90" y="464.18" font-size="10" text-anchor="middle" fill="#231f20" stroke="#231f20" stroke-width="0.22" >20</text>
<text x="360.30" y="482.02" font-size="11.8" text-anchor="start" fill="#231f20" stroke="#231f20" stroke-width="0.22"  textLength="102.20" lengthAdjust="spacingAndGlyphs">Feature importance</text>
<text x="290.20" y="11.25" font-size="16" font-weight="bold" fill="#000" stroke="#000" stroke-width="0.6" textLength="9.10" lengthAdjust="spacingAndGlyphs">b</text>
<rect x="548.60" y="15.60" width="33.90" height="17.40" fill="#4692c5" stroke="none" stroke-width="1" />
<rect x="585.10" y="15.60" width="33.90" height="17.40" fill="#4491c4" stroke="none" stroke-width="1" />
<text x="542.90" y="29.41" font-size="11.2" text-anchor="end" fill="#231f20" stroke="#231f20" stroke-width="0.22"  textLength="28.70" lengthAdjust="spacingAndGlyphs">APOB</text>
<polygon points="558.70,21.70 559.29,23.99 561.65,23.84 559.65,25.11 560.52,27.31 558.70,25.80 556.88,27.31 557.75,25.11 555.75,23.84 558.11,23.99" fill="#1a1a1a"/>
<polygon points="565.55,21.70 566.14,23.99 568.50,23.84 566.50,25.11 567.37,27.31 565.55,25.80 563.73,27.31 564.60,25.11 562.60,23.84 564.96,23.99" fill="#1a1a1a"/>
<polygon points="572.40,21.70 572.99,23.99 575.35,23.84 573.35,25.11 574.22,27.31 572.40,25.80 570.58,27.31 571.45,25.11 569.45,23.84 571.81,23.99" fill="#1a1a1a"/>
<polygon points="595.20,21.70 595.79,23.99 598.15,23.84 596.15,25.11 597.02,27.31 595.20,25.80 593.38,27.31 594.25,25.11 592.25,23.84 594.61,23.99" fill="#1a1a1a"/>
<polygon points="602.05,21.70 602.64,23.99 605.00,23.84 603.00,25.11 603.87,27.31 602.05,25.80 600.23,27.31 601.10,25.11 599.10,23.84 601.46,23.99" fill="#1a1a1a"/>
<polygon points="608.90,21.70 609.49,23.99 611.85,23.84 609.85,25.11 610.72,27.31 608.90,25.80 607.08,27.31 607.95,25.11 605.95,23.84 608.31,23.99" fill="#1a1a1a"/>
<rect x="548.60" y="35.28" width="33.90" height="17.40" fill="#cce2ef" stroke="none" stroke-width="1" />
<rect x="585.10" y="35.28" width="33.90" height="17.40" fill="#c5deec" stroke="none" stroke-width="1" />
<text x="542.90" y="49.16" font-size="11.2" text-anchor="end" fill="#231f20" stroke="#231f20" stroke-width="0.22"  textLength="36.90" lengthAdjust="spacingAndGlyphs">APOC4</text>
<polygon points="562.13,41.38 562.71,43.67 565.07,43.52 563.08,44.79 563.95,46.99 562.13,45.48 560.30,46.99 561.17,44.79 559.18,43.52 561.54,43.67" fill="#1a1a1a"/>
<polygon points="568.98,41.38 569.56,43.67 571.92,43.52 569.93,44.79 570.80,46.99 568.98,45.48 567.15,46.99 568.02,44.79 566.03,43.52 568.39,43.67" fill="#1a1a1a"/>
<polygon points="595.20,41.38 595.79,43.67 598.15,43.52 596.15,44.79 597.02,46.99 595.20,45.48 593.38,46.99 594.25,44.79 592.25,43.52 594.61,43.67" fill="#1a1a1a"/>
<polygon points="602.05,41.38 602.64,43.67 605.00,43.52 603.00,44.79 603.87,46.99 602.05,45.48 600.23,46.99 601.10,44.79 599.10,43.52 601.46,43.67" fill="#1a1a1a"/>
<polygon points="608.90,41.38 609.49,43.67 611.85,43.52 609.85,44.79 610.72,46.99 608.90,45.48 607.08,46.99 607.95,44.79 605.95,43.52 608.31,43.67" fill="#1a1a1a"/>
<rect x="548.60" y="54.96" width="33.90" height="17.40" fill="#f2a283" stroke="none" stroke-width="1" />
<rect x="585.10" y="54.96" width="33.90" height="17.40" fill="#ec9276" stroke="none" stroke-width="1" />
<text x="542.90" y="68.91" font-size="11.2" text-anchor="end" fill="#231f20" stroke="#231f20" stroke-width="0.22"  textLength="24.60" lengthAdjust="spacingAndGlyphs">A1AT</text>
<polygon points="558.70,61.06 559.29,63.35 561.65,63.20 559.65,64.47 560.52,66.67 558.70,65.16 556.88,66.67 557.75,64.47 555.75,63.20 558.11,63.35" fill="#1a1a1a"/>
<polygon points="565.55,61.06 566.14,63.35 568.50,63.20 566.50,64.47 567.37,66.67 565.55,65.16 563.73,66.67 564.60,64.47 562.60,63.20 564.96,63.35" fill="#1a1a1a"/>
<polygon points="572.40,61.06 572.99,63.35 575.35,63.20 573.35,64.47 574.22,66.67 572.40,65.16 570.58,66.67 571.45,64.47 569.45,63.20 571.81,63.35" fill="#1a1a1a"/>
<polygon points="595.20,61.06 595.79,63.35 598.15,63.20 596.15,64.47 597.02,66.67 595.20,65.16 593.38,66.67 594.25,64.47 592.25,63.20 594.61,63.35" fill="#1a1a1a"/>
<polygon points="602.05,61.06 602.64,63.35 605.00,63.20 603.00,64.47 603.87,66.67 602.05,65.16 600.23,66.67 601.10,64.47 599.10,63.20 601.46,63.35" fill="#1a1a1a"/>
<polygon points="608.90,61.06 609.49,63.35 611.85,63.20 609.85,64.47 610.72,66.67 608.90,65.16 607.08,66.67 607.95,64.47 605.95,63.20 608.31,63.35" fill="#1a1a1a"/>
<rect x="548.60" y="74.64" width="33.90" height="17.40" fill="#9ccae2" stroke="none" stroke-width="1" />
<rect x="585.10" y="74.64" width="33.90" height="17.40" fill="#d4e6f1" stroke="none" stroke-width="1" />
<text x="542.90" y="88.66" font-size="11.2" text-anchor="end" fill="#231f20" stroke="#231f20" stroke-width="0.22"  textLength="34.20" lengthAdjust="spacingAndGlyphs">APOC1</text>
<polygon points="558.70,80.74 559.29,83.03 561.65,82.88 559.65,84.15 560.52,86.35 558.70,84.84 556.88,86.35 557.75,84.15 555.75,82.88 558.11,83.03" fill="#1a1a1a"/>
<polygon points="565.55,80.74 566.14,83.03 568.50,82.88 566.50,84.15 567.37,86.35 565.55,84.84 563.73,86.35 564.60,84.15 562.60,82.88 564.96,83.03" fill="#1a1a1a"/>
<polygon points="572.40,80.74 572.99,83.03 575.35,82.88 573.35,84.15 574.22,86.35 572.40,84.84 570.58,86.35 571.45,84.15 569.45,82.88 571.81,83.03" fill="#1a1a1a"/>
<polygon points="598.63,80.74 599.21,83.03 601.57,82.88 599.58,84.15 600.45,86.35 598.63,84.84 596.80,86.35 597.67,84.15 595.68,82.88 598.04,83.03" fill="#1a1a1a"/>
<polygon points="605.48,80.74 606.06,83.03 608.42,82.88 606.43,84.15 607.30,86.35 605.48,84.84 603.65,86.35 604.52,84.15 602.53,82.88 604.89,83.03" fill="#1a1a1a"/>
<rect x="548.60" y="94.32" width="33.90" height="17.40" fill="#f8c7ad" stroke="none" stroke-width="1" />
<rect x="585.10" y="94.32" width="33.90" height="17.40" fill="#f6bc9f" stroke="none" stroke-width="1" />
<text x="542.90" y="108.41" font-size="11.2" text-anchor="end" fill="#231f20" stroke="#231f20" stroke-width="0.22"  textLength="27.00" lengthAdjust="spacingAndGlyphs">A2GL</text>
<polygon points="558.70,100.42 559.29,102.71 561.65,102.56 559.65,103.83 560.52,106.03 558.70,104.52 556.88,106.03 557.75,103.83 555.75,102.56 558.11,102.71" fill="#1a1a1a"/>
<polygon points="565.55,100.42 566.14,102.71 568.50,102.56 566.50,103.83 567.37,106.03 565.55,104.52 563.73,106.03 564.60,103.83 562.60,102.56 564.96,102.71" fill="#1a1a1a"/>
<polygon points="572.40,100.42 572.99,102.71 575.35,102.56 573.35,103.83 574.22,106.03 572.40,104.52 570.58,106.03 571.45,103.83 569.45,102.56 571.81,102.71" fill="#1a1a1a"/>
<polygon points="595.20,100.42 595.79,102.71 598.15,102.56 596.15,103.83 597.02,106.03 595.20,104.52 593.38,106.03 594.25,103.83 592.25,102.56 594.61,102.71" fill="#1a1a1a"/>
<polygon points="602.05,100.42 602.64,102.71 605.00,102.56 603.00,103.83 603.87,106.03 602.05,104.52 600.23,106.03 601.10,103.83 599.10,102.56 601.46,102.71" fill="#1a1a1a"/>
<polygon points="608.90,100.42 609.49,102.71 611.85,102.56 609.85,103.83 610.72,106.03 608.90,104.52 607.08,106.03 607.95,103.83 605.95,102.56 608.31,102.71" fill="#1a1a1a"/>
<rect x="548.60" y="114.00" width="33.90" height="17.40" fill="#fbdaca" stroke="none" stroke-width="1" />
<rect x="585.10" y="114.00" width="33.90" height="17.40" fill="#fad6c3" stroke="none" stroke-width="1" />
<text x="542.90" y="128.16" font-size="11.2" text-anchor="end" fill="#231f20" stroke="#231f20" stroke-width="0.22"  textLength="21.90" lengthAdjust="spacingAndGlyphs">CO7</text>
<polygon points="562.13,120.10 562.71,122.39 565.07,122.24 563.08,123.51 563.95,125.71 562.13,124.20 560.30,125.71 561.17,123.51 559.18,122.24 561.54,122.39" fill="#1a1a1a"/>
<polygon points="568.98,120.10 569.56,122.39 571.92,122.24 569.93,123.51 570.80,125.71 568.98,124.20 567.15,125.71 568.02,123.51 566.03,122.24 568.39,122.39" fill="#1a1a1a"/>
<polygon points="598.63,120.10 599.21,122.39 601.57,122.24 599.58,123.51 600.45,125.71 598.63,124.20 596.80,125.71 597.67,123.51 595.68,122.24 598.04,122.39" fill="#1a1a1a"/>
<polygon points="605.48,120.10 606.06,122.39 608.42,122.24 606.43,123.51 607.30,125.71 605.48,124.20 603.65,125.71 604.52,123.51 602.53,122.24 604.89,122.39" fill="#1a1a1a"/>
<rect x="548.60" y="133.68" width="33.90" height="17.40" fill="#fad6c3" stroke="none" stroke-width="1" />
<rect x="585.10" y="133.68" width="33.90" height="17.40" fill="#fbe1d4" stroke="none" stroke-width="1" />
<text x="542.90" y="147.91" font-size="11.2" text-anchor="end" fill="#231f20" stroke="#231f20" stroke-width="0.22"  textLength="23.10" lengthAdjust="spacingAndGlyphs">CO9</text>
<polygon points="562.13,139.78 562.71,142.07 565.07,141.92 563.08,143.19 563.95,145.39 562.13,143.88 560.30,145.39 561.17,143.19 559.18,141.92 561.54,142.07" fill="#1a1a1a"/>
<polygon points="568.98,139.78 569.56,142.07 571.92,141.92 569.93,143.19 570.80,145.39 568.98,143.88 567.15,145.39 568.02,143.19 566.03,141.92 568.39,142.07" fill="#1a1a1a"/>
<polygon points="602.05,139.78 602.64,142.07 605.00,141.92 603.00,143.19 603.87,145.39 602.05,143.88 600.23,145.39 601.10,143.19 599.10,141.92 601.46,142.07" fill="#1a1a1a"/>
<rect x="548.60" y="153.36" width="33.90" height="17.40" fill="#c4ddec" stroke="none" stroke-width="1" />
<rect x="585.10" y="153.36" width="33.90" height="17.40" fill="#deeaf2" stroke="none" stroke-width="1" />
<text x="542.90" y="167.66" font-size="11.2" text-anchor="end" fill="#231f20" stroke="#231f20" stroke-width="0.22"  textLength="33.80" lengthAdjust="spacingAndGlyphs">FHOD1</text>
<polygon points="558.70,159.46 559.29,161.75 561.65,161.60 559.65,162.87 560.52,165.07 558.70,163.56 556.88,165.07 557.75,162.87 555.75,161.60 558.11,161.75" fill="#1a1a1a"/>
<polygon points="565.55,159.46 566.14,161.75 568.50,161.60 566.50,162.87 567.37,165.07 565.55,163.56 563.73,165.07 564.60,162.87 562.60,161.60 564.96,161.75" fill="#1a1a1a"/>
<polygon points="572.40,159.46 572.99,161.75 575.35,161.60 573.35,162.87 574.22,165.07 572.40,163.56 570.58,165.07 571.45,162.87 569.45,161.60 571.81,161.75" fill="#1a1a1a"/>
<rect x="548.60" y="173.04" width="33.90" height="17.40" fill="#f9cfb8" stroke="none" stroke-width="1" />
<rect x="585.10" y="173.04" width="33.90" height="17.40" fill="#f9cdb5" stroke="none" stroke-width="1" />
<text x="542.90" y="187.41" font-size="11.2" text-anchor="end" fill="#231f20" stroke="#231f20" stroke-width="0.22"  textLength="30.10" lengthAdjust="spacingAndGlyphs">A2MG</text>
<polygon points="558.70,179.14 559.29,181.43 561.65,181.28 559.65,182.55 560.52,184.75 558.70,183.24 556.88,184.75 557.75,182.55 555.75,181.28 558.11,181.43" fill="#1a1a1a"/>
<polygon points="565.55,179.14 566.14,181.43 568.50,181.28 566.50,182.55 567.37,184.75 565.55,183.24 563.73,184.75 564.60,182.55 562.60,181.28 564.96,181.43" fill="#1a1a1a"/>
<polygon points="572.40,179.14 572.99,181.43 575.35,181.28 573.35,182.55 574.22,184.75 572.40,183.24 570.58,184.75 571.45,182.55 569.45,181.28 571.81,181.43" fill="#1a1a1a"/>
<polygon points="595.20,179.14 595.79,181.43 598.15,181.28 596.15,182.55 597.02,184.75 595.20,183.24 593.38,184.75 594.25,182.55 592.25,181.28 594.61,181.43" fill="#1a1a1a"/>
<polygon points="602.05,179.14 602.64,181.43 605.00,181.28 603.00,182.55 603.87,184.75 602.05,183.24 600.23,184.75 601.10,182.55 599.10,181.28 601.46,181.43" fill="#1a1a1a"/>
<polygon points="608.90,179.14 609.49,181.43 611.85,181.28 609.85,182.55 610.72,184.75 608.90,183.24 607.08,184.75 607.95,182.55 605.95,181.28 608.31,181.43" fill="#1a1a1a"/>
<rect x="548.60" y="192.72" width="33.90" height="17.40" fill="#f7e5dc" stroke="none" stroke-width="1" />
<rect x="585.10" y="192.72" width="33.90" height="17.40" fill="#f3ac8a" stroke="none" stroke-width="1" />
<text x="542.90" y="207.16" font-size="11.2" text-anchor="end" fill="#231f20" stroke="#231f20" stroke-width="0.22"  textLength="21.10" lengthAdjust="spacingAndGlyphs">GFI1</text>
<polygon points="595.20,198.82 595.79,201.11 598.15,200.96 596.15,202.23 597.02,204.43 595.20,202.92 593.38,204.43 594.25,202.23 592.25,200.96 594.61,201.11" fill="#1a1a1a"/>
<polygon points="602.05,198.82 602.64,201.11 605.00,200.96 603.00,202.23 603.87,204.43 602.05,202.92 600.23,204.43 601.10,202.23 599.10,200.96 601.46,201.11" fill="#1a1a1a"/>
<polygon points="608.90,198.82 609.49,201.11 611.85,200.96 609.85,202.23 610.72,204.43 608.90,202.92 607.08,204.43 607.95,202.23 605.95,200.96 608.31,201.11" fill="#1a1a1a"/>
<rect x="548.60" y="212.40" width="33.90" height="17.40" fill="#a6d0e6" stroke="none" stroke-width="1" />
<rect x="585.10" y="212.40" width="33.90" height="17.40" fill="#a6d0e6" stroke="none" stroke-width="1" />
<text x="542.90" y="226.91" font-size="11.2" text-anchor="end" fill="#231f20" stroke="#231f20" stroke-width="0.22"  textLength="25.60" lengthAdjust="spacingAndGlyphs">PEDF</text>
<polygon points="558.70,218.50 559.29,220.79 561.65,220.64 559.65,221.91 560.52,224.11 558.70,222.60 556.88,224.11 557.75,221.91 555.75,220.64 558.11,220.79" fill="#1a1a1a"/>
<polygon points="565.55,218.50 566.14,220.79 568.50,220.64 566.50,221.91 567.37,224.11 565.55,222.60 563.73,224.11 564.60,221.91 562.60,220.64 564.96,220.79" fill="#1a1a1a"/>
<polygon points="572.40,218.50 572.99,220.79 575.35,220.64 573.35,221.91 574.22,224.11 572.40,222.60 570.58,224.11 571.45,221.91 569.45,220.64 571.81,220.79" fill="#1a1a1a"/>
<polygon points="595.20,218.50 595.79,220.79 598.15,220.64 596.15,221.91 597.02,224.11 595.20,222.60 593.38,224.11 594.25,221.91 592.25,220.64 594.61,220.79" fill="#1a1a1a"/>
<polygon points="602.05,218.50 602.64,220.79 605.00,220.64 603.00,221.91 603.87,224.11 602.05,222.60 600.23,224.11 601.10,221.91 599.10,220.64 601.46,220.79" fill="#1a1a1a"/>
<polygon points="608.90,218.50 609.49,220.79 611.85,220.64 609.85,221.91 610.72,224.11 608.90,222.60 607.08,224.11 607.95,221.91 605.95,220.64 608.31,220.79" fill="#1a1a1a"/>
<rect x="548.60" y="232.08" width="33.90" height="17.40" fill="#add3e7" stroke="none" stroke-width="1" />
<rect x="585.10" y="232.08" width="33.90" height="17.40" fill="#d5e7f1" stroke="none" stroke-width="1" />
<text x="542.90" y="246.66" font-size="11.2" text-anchor="end" fill="#231f20" stroke="#231f20" stroke-width="0.22"  textLength="18.00" lengthAdjust="spacingAndGlyphs">LBP</text>
<polygon points="558.70,238.18 559.29,240.47 561.65,240.32 559.65,241.59 560.52,243.79 558.70,242.28 556.88,243.79 557.75,241.59 555.75,240.32 558.11,240.47" fill="#1a1a1a"/>
<polygon points="565.55,238.18 566.14,240.47 568.50,240.32 566.50,241.59 567.37,243.79 565.55,242.28 563.73,243.79 564.60,241.59 562.60,240.32 564.96,240.47" fill="#1a1a1a"/>
<polygon points="572.40,238.18 572.99,240.47 575.35,240.32 573.35,241.59 574.22,243.79 572.40,242.28 570.58,243.79 571.45,241.59 569.45,240.32 571.81,240.47" fill="#1a1a1a"/>
<polygon points="602.05,238.18 602.64,240.47 605.00,240.32 603.00,241.59 603.87,243.79 602.05,242.28 600.23,243.79 601.10,241.59 599.10,240.32 601.46,240.47" fill="#1a1a1a"/>
<rect x="548.60" y="251.76" width="33.90" height="17.40" fill="#f9ccb4" stroke="none" stroke-width="1" />
<rect x="585.10" y="251.76" width="33.90" height="17.40" fill="#f4bb9d" stroke="none" stroke-width="1" />
<text x="542.90" y="266.41" font-size="11.2" text-anchor="end" fill="#231f20" stroke="#231f20" stroke-width="0.22"  textLength="27.00" lengthAdjust="spacingAndGlyphs">VTDB</text>
<polygon points="558.70,257.86 559.29,260.15 561.65,260.00 559.65,261.27 560.52,263.47 558.70,261.96 556.88,263.47 557.75,261.27 555.75,260.00 558.11,260.15" fill="#1a1a1a"/>
<polygon points="565.55,257.86 566.14,260.15 568.50,260.00 566.50,261.27 567.37,263.47 565.55,261.96 563.73,263.47 564.60,261.27 562.60,260.00 564.96,260.15" fill="#1a1a1a"/>
<polygon points="572.40,257.86 572.99,260.15 575.35,260.00 573.35,261.27 574.22,263.47 572.40,261.96 570.58,263.47 571.45,261.27 569.45,260.00 571.81,260.15" fill="#1a1a1a"/>
<polygon points="595.20,257.86 595.79,260.15 598.15,260.00 596.15,261.27 597.02,263.47 595.20,261.96 593.38,263.47 594.25,261.27 592.25,260.00 594.61,260.15" fill="#1a1a1a"/>
<polygon points="602.05,257.86 602.64,260.15 605.00,260.00 603.00,261.27 603.87,263.47 602.05,261.96 600.23,263.47 601.10,261.27 599.10,260.00 601.46,260.15" fill="#1a1a1a"/>
<polygon points="608.90,257.86 609.49,260.15 611.85,260.00 609.85,261.27 610.72,263.47 608.90,261.96 607.08,263.47 607.95,261.27 605.95,260.00 608.31,260.15" fill="#1a1a1a"/>
<rect x="548.60" y="271.44" width="33.90" height="17.40" fill="#c1dcec" stroke="none" stroke-width="1" />
<rect x="585.10" y="271.44" width="33.90" height="17.40" fill="#e2eaf1" stroke="none" stroke-width="1" />
<text x="542.90" y="286.16" font-size="11.2" text-anchor="end" fill="#231f20" stroke="#231f20" stroke-width="0.22"  textLength="24.10" lengthAdjust="spacingAndGlyphs">FINC</text>
<polygon points="558.70,277.54 559.29,279.83 561.65,279.68 559.65,280.95 560.52,283.15 558.70,281.64 556.88,283.15 557.75,280.95 555.75,279.68 558.11,279.83" fill="#1a1a1a"/>
<polygon points="565.55,277.54 566.14,279.83 568.50,279.68 566.50,280.95 567.37,283.15 565.55,281.64 563.73,283.15 564.60,280.95 562.60,279.68 564.96,279.83" fill="#1a1a1a"/>
<polygon points="572.40,277.54 572.99,279.83 575.35,279.68 573.35,280.95 574.22,283.15 572.40,281.64 570.58,283.15 571.45,280.95 569.45,279.68 571.81,279.83" fill="#1a1a1a"/>
<rect x="548.60" y="291.12" width="33.90" height="17.40" fill="#fbd7c4" stroke="none" stroke-width="1" />
<rect x="585.10" y="291.12" width="33.90" height="17.40" fill="#fbd7c4" stroke="none" stroke-width="1" />
<text x="542.90" y="305.91" font-size="11.2" text-anchor="end" fill="#231f20" stroke="#231f20" stroke-width="0.22"  textLength="26.20" lengthAdjust="spacingAndGlyphs">A2AP</text>
<polygon points="562.13,297.22 562.71,299.51 565.07,299.36 563.08,300.63 563.95,302.83 562.13,301.32 560.30,302.83 561.17,300.63 559.18,299.36 561.54,299.51" fill="#1a1a1a"/>
<polygon points="568.98,297.22 569.56,299.51 571.92,299.36 569.93,300.63 570.80,302.83 568.98,301.32 567.15,302.83 568.02,300.63 566.03,299.36 568.39,299.51" fill="#1a1a1a"/>
<polygon points="598.63,297.22 599.21,299.51 601.57,299.36 599.58,300.63 600.45,302.83 598.63,301.32 596.80,302.83 597.67,300.63 595.68,299.36 598.04,299.51" fill="#1a1a1a"/>
<polygon points="605.48,297.22 606.06,299.51 608.42,299.36 606.43,300.63 607.30,302.83 605.48,301.32 603.65,302.83 604.52,300.63 602.53,299.36 604.89,299.51" fill="#1a1a1a"/>
<rect x="548.60" y="310.80" width="33.90" height="17.40" fill="#f4eeec" stroke="none" stroke-width="1" />
<rect x="585.10" y="310.80" width="33.90" height="17.40" fill="#f6ebe6" stroke="none" stroke-width="1" />
<text x="542.90" y="325.66" font-size="11.2" text-anchor="end" fill="#231f20" stroke="#231f20" stroke-width="0.22"  textLength="32.10" lengthAdjust="spacingAndGlyphs">TBD2B</text>
<rect x="548.60" y="330.48" width="33.90" height="17.40" fill="#f3f0ef" stroke="none" stroke-width="1" />
<rect x="585.10" y="330.48" width="33.90" height="17.40" fill="#f1f1f1" stroke="none" stroke-width="1" />
<text x="542.90" y="345.41" font-size="11.2" text-anchor="end" fill="#231f20" stroke="#231f20" stroke-width="0.22"  textLength="35.40" lengthAdjust="spacingAndGlyphs">ANKUB</text>
<rect x="548.60" y="350.16" width="33.90" height="17.40" fill="#f9d4c0" stroke="none" stroke-width="1" />
<rect x="585.10" y="350.16" width="33.90" height="17.40" fill="#f3a481" stroke="none" stroke-width="1" />
<text x="542.90" y="365.16" font-size="11.2" text-anchor="end" fill="#231f20" stroke="#231f20" stroke-width="0.22"  textLength="31.70" lengthAdjust="spacingAndGlyphs">KV401</text>
<polygon points="562.13,356.26 562.71,358.55 565.07,358.40 563.08,359.67 563.95,361.87 562.13,360.36 560.30,361.87 561.17,359.67 559.18,358.40 561.54,358.55" fill="#1a1a1a"/>
<polygon points="568.98,356.26 569.56,358.55 571.92,358.40 569.93,359.67 570.80,361.87 568.98,360.36 567.15,361.87 568.02,359.67 566.03,358.40 568.39,358.55" fill="#1a1a1a"/>
<polygon points="595.20,356.26 595.79,358.55 598.15,358.40 596.15,359.67 597.02,361.87 595.20,360.36 593.38,361.87 594.25,359.67 592.25,358.40 594.61,358.55" fill="#1a1a1a"/>
<polygon points="602.05,356.26 602.64,358.55 605.00,358.40 603.00,359.67 603.87,361.87 602.05,360.36 600.23,361.87 601.10,359.67 599.10,358.40 601.46,358.55" fill="#1a1a1a"/>
<polygon points="608.90,356.26 609.49,358.55 611.85,358.40 609.85,359.67 610.72,361.87 608.90,360.36 607.08,361.87 607.95,359.67 605.95,358.40 608.31,358.55" fill="#1a1a1a"/>
<rect x="548.60" y="369.84" width="33.90" height="17.40" fill="#f8cbb3" stroke="none" stroke-width="1" />
<rect x="585.10" y="369.84" width="33.90" height="17.40" fill="#fad8c5" stroke="none" stroke-width="1" />
<text x="542.90" y="384.91" font-size="11.2" text-anchor="end" fill="#231f20" stroke="#231f20" stroke-width="0.22"  textLength="26.20" lengthAdjust="spacingAndGlyphs">PON1</text>
<polygon points="558.70,375.94 559.29,378.23 561.65,378.08 559.65,379.35 560.52,381.55 558.70,380.04 556.88,381.55 557.75,379.35 555.75,378.08 558.11,378.23" fill="#1a1a1a"/>
<polygon points="565.55,375.94 566.14,378.23 568.50,378.08 566.50,379.35 567.37,381.55 565.55,380.04 563.73,381.55 564.60,379.35 562.60,378.08 564.96,378.23" fill="#1a1a1a"/>
<polygon points="572.40,375.94 572.99,378.23 575.35,378.08 573.35,379.35 574.22,381.55 572.40,380.04 570.58,381.55 571.45,379.35 569.45,378.08 571.81,378.23" fill="#1a1a1a"/>
<polygon points="598.63,375.94 599.21,378.23 601.57,378.08 599.58,379.35 600.45,381.55 598.63,380.04 596.80,381.55 597.67,379.35 595.68,378.08 598.04,378.23" fill="#1a1a1a"/>
<polygon points="605.48,375.94 606.06,378.23 608.42,378.08 606.43,379.35 607.30,381.55 605.48,380.04 603.65,381.55 604.52,379.35 602.53,378.08 604.89,378.23" fill="#1a1a1a"/>
<rect x="548.60" y="389.52" width="33.90" height="17.40" fill="#f9d0ba" stroke="none" stroke-width="1" />
<rect x="585.10" y="389.52" width="33.90" height="17.40" fill="#f6e8e1" stroke="none" stroke-width="1" />
<text x="542.90" y="404.66" font-size="11.2" text-anchor="end" fill="#231f20" stroke="#231f20" stroke-width="0.22"  textLength="30.10" lengthAdjust="spacingAndGlyphs">FBLN1</text>
<polygon points="562.13,395.62 562.71,397.91 565.07,397.76 563.08,399.03 563.95,401.23 562.13,399.72 560.30,401.23 561.17,399.03 559.18,397.76 561.54,397.91" fill="#1a1a1a"/>
<polygon points="568.98,395.62 569.56,397.91 571.92,397.76 569.93,399.03 570.80,401.23 568.98,399.72 567.15,401.23 568.02,399.03 566.03,397.76 568.39,397.91" fill="#1a1a1a"/>
<rect x="548.60" y="409.20" width="33.90" height="17.40" fill="#f5bfa3" stroke="none" stroke-width="1" />
<rect x="585.10" y="409.20" width="33.90" height="17.40" fill="#f5bb9e" stroke="none" stroke-width="1" />
<text x="542.90" y="424.41" font-size="11.2" text-anchor="end" fill="#231f20" stroke="#231f20" stroke-width="0.22"  textLength="23.90" lengthAdjust="spacingAndGlyphs">TRFE</text>
<polygon points="558.70,415.30 559.29,417.59 561.65,417.44 559.65,418.71 560.52,420.91 558.70,419.40 556.88,420.91 557.75,418.71 555.75,417.44 558.11,417.59" fill="#1a1a1a"/>
<polygon points="565.55,415.30 566.14,417.59 568.50,417.44 566.50,418.71 567.37,420.91 565.55,419.40 563.73,420.91 564.60,418.71 562.60,417.44 564.96,417.59" fill="#1a1a1a"/>
<polygon points="572.40,415.30 572.99,417.59 575.35,417.44 573.35,418.71 574.22,420.91 572.40,419.40 570.58,420.91 571.45,418.71 569.45,417.44 571.81,417.59" fill="#1a1a1a"/>
<polygon points="595.20,415.30 595.79,417.59 598.15,417.44 596.15,418.71 597.02,420.91 595.20,419.40 593.38,420.91 594.25,418.71 592.25,417.44 594.61,417.59" fill="#1a1a1a"/>
<polygon points="602.05,415.30 602.64,417.59 605.00,417.44 603.00,418.71 603.87,420.91 602.05,419.40 600.23,420.91 601.10,418.71 599.10,417.44 601.46,417.59" fill="#1a1a1a"/>
<polygon points="608.90,415.30 609.49,417.59 611.85,417.44 609.85,418.71 610.72,420.91 608.90,419.40 607.08,420.91 607.95,418.71 605.95,417.44 608.31,417.59" fill="#1a1a1a"/>
<rect x="548.60" y="428.88" width="33.90" height="17.40" fill="#cae1ee" stroke="none" stroke-width="1" />
<rect x="585.10" y="428.88" width="33.90" height="17.40" fill="#c5deec" stroke="none" stroke-width="1" />
<text x="542.90" y="444.16" font-size="11.2" text-anchor="end" fill="#231f20" stroke="#231f20" stroke-width="0.22"  textLength="19.40" lengthAdjust="spacingAndGlyphs">FA9</text>
<polygon points="562.13,434.98 562.71,437.27 565.07,437.12 563.08,438.39 563.95,440.59 562.13,439.08 560.30,440.59 561.17,438.39 559.18,437.12 561.54,437.27" fill="#1a1a1a"/>
<polygon points="568.98,434.98 569.56,437.27 571.92,437.12 569.93,438.39 570.80,440.59 568.98,439.08 567.15,440.59 568.02,438.39 566.03,437.12 568.39,437.27" fill="#1a1a1a"/>
<polygon points="595.20,434.98 595.79,437.27 598.15,437.12 596.15,438.39 597.02,440.59 595.20,439.08 593.38,440.59 594.25,438.39 592.25,437.12 594.61,437.27" fill="#1a1a1a"/>
<polygon points="602.05,434.98 602.64,437.27 605.00,437.12 603.00,438.39 603.87,440.59 602.05,439.08 600.23,440.59 601.10,438.39 599.10,437.12 601.46,437.27" fill="#1a1a1a"/>
<polygon points="608.90,434.98 609.49,437.27 611.85,437.12 609.85,438.39 610.72,440.59 608.90,439.08 607.08,440.59 607.95,438.39 605.95,437.12 608.31,437.27" fill="#1a1a1a"/>
<text x="506.10" y="11.25" font-size="16" font-weight="bold" fill="#000" stroke="#000" stroke-width="0.6" textLength="8.00" lengthAdjust="spacingAndGlyphs">c</text>
<text transform="translate(551.00,467.00) rotate(-45)" x="0" y="0" dy="4.07" font-size="11.3" text-anchor="middle" fill="#231f20" stroke="#231f20" stroke-width="0.22">Training</text>
<text transform="translate(560.20,476.40) rotate(-45)" x="0" y="0" dy="4.07" font-size="11.3" text-anchor="middle" fill="#231f20" stroke="#231f20" stroke-width="0.22">dataset</text>
<text transform="translate(589.30,470.00) rotate(-45)" x="0" y="0" dy="4.07" font-size="11.3" text-anchor="middle" fill="#231f20" stroke="#231f20" stroke-width="0.22">Validation</text>
<text transform="translate(598.50,479.20) rotate(-45)" x="0" y="0" dy="4.07" font-size="11.3" text-anchor="middle" fill="#231f20" stroke="#231f20" stroke-width="0.22">dataset</text>
<defs><linearGradient id="cb" x1="0" y1="0" x2="0" y2="1"><stop offset="0" stop-color="#d6604d"/><stop offset="0.25" stop-color="#f4a582"/><stop offset="0.5" stop-color="#f5f3f2"/><stop offset="0.75" stop-color="#92c5de"/><stop offset="1" stop-color="#3d8abf"/></linearGradient></defs>
<rect x="627.90" y="25.80" width="7.40" height="65.20" fill="url(#cb)" stroke="none" stroke-width="1" />
<line x1="635.30" y1="31.80" x2="637.60" y2="31.80" stroke="#333" stroke-width="0.8" />
<text x="639.60" y="35.29" font-size="10.3" text-anchor="start" fill="#231f20" stroke="#231f20" stroke-width="0.22" >0.4</text>
<line x1="635.30" y1="44.90" x2="637.60" y2="44.90" stroke="#333" stroke-width="0.8" />
<text x="639.60" y="48.39" font-size="10.3" text-anchor="start" fill="#231f20" stroke="#231f20" stroke-width="0.22" >0.2</text>
<line x1="635.30" y1="57.60" x2="637.60" y2="57.60" stroke="#333" stroke-width="0.8" />
<text x="639.60" y="61.09" font-size="10.3" text-anchor="start" fill="#231f20" stroke="#231f20" stroke-width="0.22" >0</text>
<line x1="635.30" y1="70.90" x2="637.60" y2="70.90" stroke="#333" stroke-width="0.8" />
<text x="639.60" y="74.39" font-size="10.3" text-anchor="start" fill="#231f20" stroke="#231f20" stroke-width="0.22" >–0.2</text>
<line x1="635.30" y1="84.00" x2="637.60" y2="84.00" stroke="#333" stroke-width="0.8" />
<text x="639.60" y="87.49" font-size="10.3" text-anchor="start" fill="#231f20" stroke="#231f20" stroke-width="0.22" >–0.4</text>
<text x="628.50" y="21.95" font-size="11.3" text-anchor="start" fill="#231f20" stroke="#231f20" stroke-width="0.22"  textLength="58.50" lengthAdjust="spacingAndGlyphs">Coefficient</text>
<line x1="49.00" y1="540.50" x2="49.00" y2="757.00" stroke="#505050" stroke-width="1" />
<line x1="269.00" y1="540.50" x2="269.00" y2="757.00" stroke="#505050" stroke-width="1" />
<line x1="49.50" y1="541.00" x2="268.50" y2="541.00" stroke="#505050" stroke-width="1" />
<line x1="49.50" y1="756.50" x2="268.50" y2="756.50" stroke="#505050" stroke-width="1" />
<line x1="58.95" y1="756.50" x2="58.95" y2="759.50" stroke="#4d4d4d" stroke-width="1" />
<rect x="49.45" y="769.15" width="4.4" height="0.95" fill="#231f20"/>
<text x="54.55" y="773.18" font-size="10" text-anchor="start" fill="#231f20" stroke="#231f20" stroke-width="0.22" >1.5</text>
<line x1="98.90" y1="756.50" x2="98.90" y2="759.50" stroke="#4d4d4d" stroke-width="1" />
<rect x="89.40" y="769.15" width="4.4" height="0.95" fill="#231f20"/>
<text x="94.50" y="773.18" font-size="10" text-anchor="start" fill="#231f20" stroke="#231f20" stroke-width="0.22" >1.0</text>
<line x1="138.85" y1="756.50" x2="138.85" y2="759.50" stroke="#4d4d4d" stroke-width="1" />
<rect x="129.35" y="769.15" width="4.4" height="0.95" fill="#231f20"/>
<text x="134.45" y="773.18" font-size="10" text-anchor="start" fill="#231f20" stroke="#231f20" stroke-width="0.22" >0.5</text>
<line x1="178.80" y1="756.50" x2="178.80" y2="759.50" stroke="#4d4d4d" stroke-width="1" />
<text x="178.80" y="773.18" font-size="10" text-anchor="middle" fill="#231f20" stroke="#231f20" stroke-width="0.22" >0</text>
<line x1="218.75" y1="756.50" x2="218.75" y2="759.50" stroke="#4d4d4d" stroke-width="1" />
<text x="218.75" y="773.18" font-size="10" text-anchor="middle" fill="#231f20" stroke="#231f20" stroke-width="0.22" >0.5</text>
<line x1="258.70" y1="756.50" x2="258.70" y2="759.50" stroke="#4d4d4d" stroke-width="1" />
<text x="258.70" y="773.18" font-size="10" text-anchor="middle" fill="#231f20" stroke="#231f20" stroke-width="0.22" >1.0</text>
<text x="108.80" y="790.69" font-size="11.7" text-anchor="start" fill="#231f20" stroke="#231f20" stroke-width="0.22"  textLength="90.80" lengthAdjust="spacingAndGlyphs">Effect size (PHAS)</text>
<line x1="44.40" y1="563.30" x2="49.00" y2="563.30" stroke="#4d4d4d" stroke-width="1" />
<text x="18.90" y="567.18" font-size="10" text-anchor="start" fill="#231f20" stroke="#231f20" stroke-width="0.22"  textLength="9.20" lengthAdjust="spacingAndGlyphs">10</text>
<text x="29.60" y="562.21" font-size="7" text-anchor="start" fill="#231f20" stroke="#231f20" stroke-width="0.22"  textLength="9.50" lengthAdjust="spacingAndGlyphs">–80</text>
<line x1="44.40" y1="608.40" x2="49.00" y2="608.40" stroke="#4d4d4d" stroke-width="1" />
<text x="18.90" y="612.28" font-size="10" text-anchor="start" fill="#231f20" stroke="#231f20" stroke-width="0.22"  textLength="9.20" lengthAdjust="spacingAndGlyphs">10</text>
<text x="29.60" y="607.31" font-size="7" text-anchor="start" fill="#231f20" stroke="#231f20" stroke-width="0.22"  textLength="9.50" lengthAdjust="spacingAndGlyphs">–60</text>
<line x1="44.40" y1="653.70" x2="49.00" y2="653.70" stroke="#4d4d4d" stroke-width="1" />
<text x="18.90" y="657.58" font-size="10" text-anchor="start" fill="#231f20" stroke="#231f20" stroke-width="0.22"  textLength="9.20" lengthAdjust="spacingAndGlyphs">10</text>
<text x="29.60" y="652.61" font-size="7" text-anchor="start" fill="#231f20" stroke="#231f20" stroke-width="0.22"  textLength="9.50" lengthAdjust="spacingAndGlyphs">–40</text>
<line x1="44.40" y1="699.40" x2="49.00" y2="699.40" stroke="#4d4d4d" stroke-width="1" />
<text x="18.90" y="703.28" font-size="10" text-anchor="start" fill="#231f20" stroke="#231f20" stroke-width="0.22"  textLength="9.20" lengthAdjust="spacingAndGlyphs">10</text>
<text x="29.60" y="698.31" font-size="7" text-anchor="start" fill="#231f20" stroke="#231f20" stroke-width="0.22"  textLength="9.50" lengthAdjust="spacingAndGlyphs">–20</text>
<line x1="44.40" y1="744.80" x2="49.00" y2="744.80" stroke="#4d4d4d" stroke-width="1" />
<text x="39.40" y="743.48" font-size="10" text-anchor="end" fill="#231f20" stroke="#231f20" stroke-width="0.22"  textLength="20.40" lengthAdjust="spacingAndGlyphs">0.05</text>
<text x="39.60" y="752.68" font-size="10" text-anchor="end" fill="#231f20" stroke="#231f20" stroke-width="0.22" >0</text>
<text transform="translate(5.6,647.7) rotate(-90)" x="0" y="0" dy="4.2" font-size="12.0" text-anchor="middle" fill="#231f20" stroke="#231f20" stroke-width="0.22" textLength="39.6" lengthAdjust="spacingAndGlyphs">Q value</text>
<text x="0.00" y="540.35" font-size="16" font-weight="bold" fill="#000" stroke="#000" stroke-width="0.6" textLength="8.80" lengthAdjust="spacingAndGlyphs">e</text>
<text x="182.80" y="553.29" font-size="10.3" text-anchor="start" fill="#231f20" stroke="#231f20" stroke-width="0.22"  textLength="57.60" lengthAdjust="spacingAndGlyphs">Clinical traits</text>
<rect x="182.80" y="557.05" width="9.90" height="9.90" fill="#f8766d" stroke="none" stroke-width="1" />
<text x="198.60" y="565.99" font-size="10.3" text-anchor="start" fill="#231f20" stroke="#231f20" stroke-width="0.22"  textLength="67.40" lengthAdjust="spacingAndGlyphs">Anthropometry</text>
<rect x="182.80" y="571.53" width="9.90" height="9.90" fill="#c49a00" stroke="none" stroke-width="1" />
<text x="198.60" y="580.47" font-size="10.3" text-anchor="start" fill="#231f20" stroke="#231f20" stroke-width="0.22"  textLength="41.20" lengthAdjust="spacingAndGlyphs">Immunity</text>
<rect x="182.80" y="586.01" width="9.90" height="9.90" fill="#fb61d7" stroke="none" stroke-width="1" />
<text x="198.60" y="594.95" font-size="10.3" text-anchor="start" fill="#231f20" stroke="#231f20" stroke-width="0.22"  textLength="20.80" lengthAdjust="spacingAndGlyphs">Lipid</text>
<rect x="182.80" y="600.49" width="9.90" height="9.90" fill="#53b400" stroke="none" stroke-width="1" />
<text x="198.60" y="609.43" font-size="10.3" text-anchor="start" fill="#231f20" stroke="#231f20" stroke-width="0.22"  textLength="36.20" lengthAdjust="spacingAndGlyphs">Glucose</text>
<rect x="182.80" y="614.97" width="9.90" height="9.90" fill="#00c094" stroke="none" stroke-width="1" />
<text x="198.60" y="623.91" font-size="10.3" text-anchor="start" fill="#231f20" stroke="#231f20" stroke-width="0.22"  textLength="21.50" lengthAdjust="spacingAndGlyphs">Liver</text>
<rect x="182.80" y="629.45" width="9.90" height="9.90" fill="#00b6eb" stroke="none" stroke-width="1" />
<text x="198.60" y="638.39" font-size="10.3" text-anchor="start" fill="#231f20" stroke="#231f20" stroke-width="0.22"  textLength="24.50" lengthAdjust="spacingAndGlyphs">Renal</text>
<rect x="182.80" y="643.93" width="9.90" height="9.90" fill="#a58aff" stroke="none" stroke-width="1" />
<text x="198.60" y="652.87" font-size="10.3" text-anchor="start" fill="#231f20" stroke="#231f20" stroke-width="0.22"  textLength="26.50" lengthAdjust="spacingAndGlyphs">MMSE</text>
<line x1="106.20" y1="738.70" x2="130.20" y2="735.60" stroke="#333" stroke-width="0.7" />
<line x1="110.60" y1="746.00" x2="131.40" y2="740.20" stroke="#333" stroke-width="0.7" />
<line x1="161.30" y1="715.30" x2="155.70" y2="734.60" stroke="#333" stroke-width="0.7" />
<line x1="167.90" y1="720.10" x2="163.50" y2="724.50" stroke="#333" stroke-width="0.7" />
<line x1="168.80" y1="730.70" x2="163.50" y2="734.20" stroke="#333" stroke-width="0.7" />
<line x1="181.00" y1="736.80" x2="173.50" y2="738.60" stroke="#333" stroke-width="0.7" />
<line x1="144.70" y1="725.80" x2="147.00" y2="726.20" stroke="#333" stroke-width="0.7" />
<line x1="166.20" y1="750.40" x2="160.00" y2="743.80" stroke="#333" stroke-width="0.7" />
<line x1="148.20" y1="746.60" x2="149.50" y2="741.50" stroke="#333" stroke-width="0.7" />
<circle cx="80.10" cy="550.50" r="8.40" fill="#fb61d7" stroke="#262626" stroke-width="0.8"/>
<circle cx="88.70" cy="584.70" r="8.00" fill="#fb61d7" stroke="#262626" stroke-width="0.8"/>
<circle cx="95.90" cy="617.00" r="7.40" fill="#fb61d7" stroke="#262626" stroke-width="0.8"/>
<circle cx="82.60" cy="666.00" r="7.50" fill="#c49a00" stroke="#262626" stroke-width="0.8"/>
<circle cx="86.60" cy="669.30" r="7.80" fill="#c49a00" stroke="#262626" stroke-width="0.8"/>
<circle cx="128.50" cy="695.30" r="6.50" fill="#00b6eb" stroke="#262626" stroke-width="0.8"/>
<circle cx="144.70" cy="703.50" r="5.30" fill="#f8766d" stroke="#262626" stroke-width="0.8"/>
<circle cx="142.10" cy="716.20" r="5.80" fill="#f8766d" stroke="#262626" stroke-width="0.8"/>
<circle cx="117.10" cy="728.00" r="6.90" fill="#53b400" stroke="#262626" stroke-width="0.8"/>
<circle cx="150.80" cy="726.70" r="5.40" fill="#f8766d" stroke="#262626" stroke-width="0.8"/>
<circle cx="163.50" cy="726.30" r="4.40" fill="#f8766d" stroke="#262626" stroke-width="0.8"/>
<circle cx="132.40" cy="735.90" r="5.70" fill="#00c094" stroke="#262626" stroke-width="0.8"/>
<circle cx="140.80" cy="736.30" r="5.60" fill="#00c094" stroke="#262626" stroke-width="0.8"/>
<circle cx="136.00" cy="741.60" r="5.90" fill="#a58aff" stroke="#262626" stroke-width="0.8"/>
<circle cx="151.70" cy="739.00" r="4.50" fill="#00b6eb" stroke="#262626" stroke-width="0.8"/>
<circle cx="153.20" cy="738.60" r="4.40" fill="#00b6eb" stroke="#262626" stroke-width="0.8"/>
<circle cx="155.00" cy="739.20" r="4.20" fill="#00b6eb" stroke="#262626" stroke-width="0.8"/>
<circle cx="160.00" cy="736.80" r="4.60" fill="#53b400" stroke="#262626" stroke-width="0.8"/>
<circle cx="156.50" cy="744.20" r="4.60" fill="#a58aff" stroke="#262626" stroke-width="0.8"/>
<circle cx="165.30" cy="744.20" r="4.20" fill="#a58aff" stroke="#262626" stroke-width="0.8"/>
<circle cx="172.30" cy="744.70" r="3.60" fill="#a58aff" stroke="#262626" stroke-width="0.8"/>
<circle cx="170.50" cy="739.90" r="3.40" fill="#53b400" stroke="#262626" stroke-width="0.8"/>
<circle cx="179.70" cy="745.10" r="2.20" fill="#a58aff" stroke="#262626" stroke-width="0.8"/>
<circle cx="183.20" cy="744.20" r="2.40" fill="#00c094" stroke="#262626" stroke-width="0.8"/>
<circle cx="185.70" cy="744.60" r="3.40" fill="#a58aff" stroke="#262626" stroke-width="0.8"/>
<circle cx="191.00" cy="743.90" r="3.90" fill="#a58aff" stroke="#262626" stroke-width="0.8"/>
<circle cx="194.20" cy="743.20" r="4.00" fill="#a58aff" stroke="#262626" stroke-width="0.8"/>
<circle cx="197.50" cy="743.20" r="4.20" fill="#a58aff" stroke="#262626" stroke-width="0.8"/>
<circle cx="203.40" cy="743.60" r="4.90" fill="#a58aff" stroke="#262626" stroke-width="0.8"/>
<circle cx="215.00" cy="711.70" r="5.90" fill="#fb61d7" stroke="#262626" stroke-width="0.8"/>
<line x1="49.00" y1="742.10" x2="269.00" y2="742.10" stroke="#5c5c5c" stroke-width="1" stroke-dasharray="5.1 2.8"/>
<text x="91.40" y="554.09" font-size="9.2" text-anchor="start" fill="#231f20" stroke="#231f20" stroke-width="0.22"  textLength="10.90" lengthAdjust="spacingAndGlyphs">TC</text>
<text x="99.70" y="588.29" font-size="9.2" text-anchor="start" fill="#231f20" stroke="#231f20" stroke-width="0.22"  textLength="23.00" lengthAdjust="spacingAndGlyphs">LDL-C</text>
<text x="106.20" y="620.59" font-size="9.2" text-anchor="start" fill="#231f20" stroke="#231f20" stroke-width="0.22"  textLength="10.80" lengthAdjust="spacingAndGlyphs">TG</text>
<text x="80.60" y="655.59" font-size="9.2" text-anchor="start" fill="#231f20" stroke="#231f20" stroke-width="0.22"  textLength="17.90" lengthAdjust="spacingAndGlyphs">IL-1β</text>
<text x="96.30" y="674.59" font-size="9.2" text-anchor="start" fill="#231f20" stroke="#231f20" stroke-width="0.22"  textLength="15.40" lengthAdjust="spacingAndGlyphs">TNF</text>
<text x="108.80" y="697.19" font-size="9.2" text-anchor="start" fill="#231f20" stroke="#231f20" stroke-width="0.22"  textLength="12.00" lengthAdjust="spacingAndGlyphs">UA</text>
<text x="149.90" y="701.09" font-size="9.2" text-anchor="start" fill="#231f20" stroke="#231f20" stroke-width="0.22"  textLength="14.00" lengthAdjust="spacingAndGlyphs">WC</text>
<text x="118.60" y="718.59" font-size="9.2" text-anchor="start" fill="#231f20" stroke="#231f20" stroke-width="0.22"  textLength="16.00" lengthAdjust="spacingAndGlyphs">DBP</text>
<text x="157.00" y="714.09" font-size="9.2" text-anchor="start" fill="#231f20" stroke="#231f20" stroke-width="0.22"  textLength="14.80" lengthAdjust="spacingAndGlyphs">IL-6</text>
<text x="167.90" y="720.69" font-size="9.2" text-anchor="start" fill="#231f20" stroke="#231f20" stroke-width="0.22"  textLength="14.20" lengthAdjust="spacingAndGlyphs">BMI</text>
<text x="82.10" y="729.09" font-size="9.2" text-anchor="start" fill="#231f20" stroke="#231f20" stroke-width="0.22"  textLength="25.90" lengthAdjust="spacingAndGlyphs">HBA1C</text>
<text x="127.40" y="728.79" font-size="9.2" text-anchor="start" fill="#231f20" stroke="#231f20" stroke-width="0.22"  textLength="14.70" lengthAdjust="spacingAndGlyphs">SBP</text>
<text x="168.80" y="732.49" font-size="9.2" text-anchor="start" fill="#231f20" stroke="#231f20" stroke-width="0.22"  textLength="15.50" lengthAdjust="spacingAndGlyphs">FBG</text>
<text x="181.80" y="739.59" font-size="9.2" text-anchor="start" fill="#231f20" stroke="#231f20" stroke-width="0.22"  textLength="24.90" lengthAdjust="spacingAndGlyphs">Insulin</text>
<text x="87.60" y="739.59" font-size="9.2" text-anchor="start" fill="#231f20" stroke="#231f20" stroke-width="0.22"  textLength="17.40" lengthAdjust="spacingAndGlyphs">SOD</text>
<text x="95.20" y="749.89" font-size="9.2" text-anchor="start" fill="#231f20" stroke="#231f20" stroke-width="0.22"  textLength="14.30" lengthAdjust="spacingAndGlyphs">ALT</text>
<text x="110.60" y="755.99" font-size="9.2" text-anchor="start" fill="#231f20" stroke="#231f20" stroke-width="0.22"  textLength="29.70" lengthAdjust="spacingAndGlyphs">MMSE3</text>
<text x="143.40" y="755.29" font-size="9.2" text-anchor="start" fill="#231f20" stroke="#231f20" stroke-width="0.22"  textLength="14.70" lengthAdjust="spacingAndGlyphs">ALP</text>
<text x="167.90" y="755.39" font-size="9.2" text-anchor="start" fill="#231f20" stroke="#231f20" stroke-width="0.22"  textLength="19.70" lengthAdjust="spacingAndGlyphs">uCRE</text>
<text x="224.40" y="715.29" font-size="9.2" text-anchor="start" fill="#231f20" stroke="#231f20" stroke-width="0.22"  textLength="25.50" lengthAdjust="spacingAndGlyphs">HDL-C</text>
<line x1="49.50" y1="824.00" x2="49.50" y2="1037.00" stroke="#505050" stroke-width="1" />
<line x1="267.50" y1="824.00" x2="267.50" y2="1037.00" stroke="#505050" stroke-width="1" />
<line x1="50.00" y1="824.50" x2="267.00" y2="824.50" stroke="#505050" stroke-width="1" />
<line x1="50.00" y1="1036.50" x2="267.00" y2="1036.50" stroke="#505050" stroke-width="1" />
<line x1="86.60" y1="1036.50" x2="86.60" y2="1039.50" stroke="#4d4d4d" stroke-width="1" />
<rect x="77.10" y="1049.35" width="4.4" height="0.95" fill="#231f20"/>
<text x="82.20" y="1053.38" font-size="10" text-anchor="start" fill="#231f20" stroke="#231f20" stroke-width="0.22" >1.0</text>
<line x1="145.40" y1="1036.50" x2="145.40" y2="1039.50" stroke="#4d4d4d" stroke-width="1" />
<rect x="135.90" y="1049.35" width="4.4" height="0.95" fill="#231f20"/>
<text x="141.00" y="1053.38" font-size="10" text-anchor="start" fill="#231f20" stroke="#231f20" stroke-width="0.22" >0.5</text>
<line x1="204.20" y1="1036.50" x2="204.20" y2="1039.50" stroke="#4d4d4d" stroke-width="1" />
<text x="204.20" y="1053.38" font-size="10" text-anchor="middle" fill="#231f20" stroke="#231f20" stroke-width="0.22" >0</text>
<line x1="263.00" y1="1036.50" x2="263.00" y2="1039.50" stroke="#4d4d4d" stroke-width="1" />
<text x="263.00" y="1053.38" font-size="10" text-anchor="middle" fill="#231f20" stroke="#231f20" stroke-width="0.22" >0.5</text>
<line x1="44.50" y1="850.15" x2="49.50" y2="850.15" stroke="#4d4d4d" stroke-width="1" />
<text x="41.60" y="854.03" font-size="10" text-anchor="end" fill="#231f20" stroke="#231f20" stroke-width="0.22" >1</text>
<line x1="44.50" y1="892.80" x2="49.50" y2="892.80" stroke="#4d4d4d" stroke-width="1" />
<text x="41.60" y="896.68" font-size="10" text-anchor="end" fill="#231f20" stroke="#231f20" stroke-width="0.22" >0</text>
<line x1="44.50" y1="935.45" x2="49.50" y2="935.45" stroke="#4d4d4d" stroke-width="1" />
<rect x="30.94" y="935.30" width="4.4" height="0.95" fill="#231f20"/>
<text x="36.04" y="939.33" font-size="10" text-anchor="start" fill="#231f20" stroke="#231f20" stroke-width="0.22" >1</text>
<line x1="44.50" y1="978.10" x2="49.50" y2="978.10" stroke="#4d4d4d" stroke-width="1" />
<rect x="30.94" y="977.95" width="4.4" height="0.95" fill="#231f20"/>
<text x="36.04" y="981.98" font-size="10" text-anchor="start" fill="#231f20" stroke="#231f20" stroke-width="0.22" >2</text>
<line x1="44.50" y1="1020.75" x2="49.50" y2="1020.75" stroke="#4d4d4d" stroke-width="1" />
<rect x="30.94" y="1020.60" width="4.4" height="0.95" fill="#231f20"/>
<text x="36.04" y="1024.63" font-size="10" text-anchor="start" fill="#231f20" stroke="#231f20" stroke-width="0.22" >3</text>
<text x="85.00" y="1070.89" font-size="11.7" text-anchor="start" fill="#231f20" stroke="#231f20" stroke-width="0.22"  textLength="147.00" lengthAdjust="spacingAndGlyphs">Effect size (GNHS discovery)</text>
<text transform="translate(17.2,929.7) rotate(-90)" x="0" y="0" dy="4.3" font-size="12.2" text-anchor="middle" fill="#231f20" stroke="#231f20" stroke-width="0.22" textLength="150" lengthAdjust="spacingAndGlyphs">Effect size (GNHS validation)</text>
<text x="65.3" y="846.12" font-size="11.5" fill="#231f20" stroke="#231f20" stroke-width="0.22" textLength="37.2" lengthAdjust="spacingAndGlyphs"><tspan font-style="italic">r</tspan> = 0.72</text>
<text x="-0.80" y="823.35" font-size="16" font-weight="bold" fill="#000" stroke="#000" stroke-width="0.6" textLength="6.00" lengthAdjust="spacingAndGlyphs">f</text>
<line x1="134.20" y1="926.40" x2="144.70" y2="926.40" stroke="#333" stroke-width="0.7" />
<line x1="140.70" y1="938.70" x2="148.60" y2="933.50" stroke="#333" stroke-width="0.7" />
<line x1="157.80" y1="908.50" x2="163.00" y2="913.80" stroke="#333" stroke-width="0.7" />
<line x1="163.50" y1="930.50" x2="162.80" y2="927.50" stroke="#333" stroke-width="0.7" />
<line x1="184.00" y1="929.50" x2="188.00" y2="932.20" stroke="#333" stroke-width="0.7" />
<circle cx="239.30" cy="875.10" r="5.70" fill="#a58aff" stroke="#262626" stroke-width="0.8"/>
<circle cx="220.30" cy="885.90" r="5.70" fill="#a58aff" stroke="#262626" stroke-width="0.8"/>
<circle cx="210.90" cy="885.90" r="5.70" fill="#00c094" stroke="#262626" stroke-width="0.8"/>
<circle cx="213.80" cy="895.60" r="5.70" fill="#a58aff" stroke="#262626" stroke-width="0.8"/>
<circle cx="194.10" cy="889.80" r="5.70" fill="#a58aff" stroke="#262626" stroke-width="0.8"/>
<circle cx="183.60" cy="895.60" r="5.70" fill="#a58aff" stroke="#262626" stroke-width="0.8"/>
<circle cx="168.80" cy="890.30" r="5.70" fill="#00b6eb" stroke="#262626" stroke-width="0.8"/>
<circle cx="171.70" cy="896.90" r="5.70" fill="#a58aff" stroke="#262626" stroke-width="0.8"/>
<circle cx="140.90" cy="890.40" r="5.70" fill="#a58aff" stroke="#262626" stroke-width="0.8"/>
<circle cx="205.10" cy="904.80" r="5.70" fill="#a58aff" stroke="#262626" stroke-width="0.8"/>
<circle cx="224.00" cy="907.40" r="5.70" fill="#a58aff" stroke="#262626" stroke-width="0.8"/>
<circle cx="229.50" cy="912.20" r="5.70" fill="#a58aff" stroke="#262626" stroke-width="0.8"/>
<circle cx="186.70" cy="907.90" r="5.70" fill="#a58aff" stroke="#262626" stroke-width="0.8"/>
<circle cx="185.40" cy="917.90" r="5.70" fill="#a58aff" stroke="#262626" stroke-width="0.8"/>
<circle cx="113.80" cy="907.00" r="5.70" fill="#53b400" stroke="#262626" stroke-width="0.8"/>
<circle cx="136.90" cy="916.60" r="5.70" fill="#00c094" stroke="#262626" stroke-width="0.8"/>
<circle cx="167.80" cy="919.20" r="5.70" fill="#c49a00" stroke="#262626" stroke-width="0.8"/>
<circle cx="162.30" cy="922.70" r="5.70" fill="#f8766d" stroke="#262626" stroke-width="0.8"/>
<circle cx="176.20" cy="915.30" r="5.70" fill="#53b400" stroke="#262626" stroke-width="0.8"/>
<circle cx="165.70" cy="915.30" r="5.70" fill="#00b6eb" stroke="#262626" stroke-width="0.8"/>
<circle cx="181.50" cy="927.10" r="5.70" fill="#f8766d" stroke="#262626" stroke-width="0.8"/>
<circle cx="149.90" cy="931.80" r="5.70" fill="#f8766d" stroke="#262626" stroke-width="0.8"/>
<circle cx="147.30" cy="926.60" r="5.70" fill="#00c094" stroke="#262626" stroke-width="0.8"/>
<circle cx="153.90" cy="944.20" r="5.70" fill="#f8766d" stroke="#262626" stroke-width="0.8"/>
<circle cx="130.20" cy="952.60" r="5.70" fill="#00b6eb" stroke="#262626" stroke-width="0.8"/>
<circle cx="191.40" cy="962.10" r="5.70" fill="#53b400" stroke="#262626" stroke-width="0.8"/>
<circle cx="63.90" cy="926.10" r="5.70" fill="#c49a00" stroke="#262626" stroke-width="0.8"/>
<circle cx="69.00" cy="933.80" r="5.70" fill="#c49a00" stroke="#262626" stroke-width="0.8"/>
<circle cx="83.20" cy="959.20" r="5.70" fill="#fb61d7" stroke="#262626" stroke-width="0.8"/>
<circle cx="59.10" cy="1020.50" r="5.70" fill="#fb61d7" stroke="#262626" stroke-width="0.8"/>
<circle cx="71.80" cy="1026.70" r="5.70" fill="#fb61d7" stroke="#262626" stroke-width="0.8"/>
<circle cx="257.10" cy="833.80" r="5.70" fill="#fb61d7" stroke="#262626" stroke-width="0.8"/>
<line x1="49.50" y1="892.80" x2="267.50" y2="892.80" stroke="#5c5c5c" stroke-width="1" stroke-dasharray="5.1 2.8"/>
<line x1="204.20" y1="824.50" x2="204.20" y2="1036.50" stroke="#5c5c5c" stroke-width="1" stroke-dasharray="5.1 2.8"/>
<text x="249.00" y="837.34" font-size="9.6" text-anchor="end" fill="#231f20" stroke="#231f20" stroke-width="0.22"  textLength="26.50" lengthAdjust="spacingAndGlyphs">HDL-C</text>
<text x="143.40" y="906.24" font-size="9.6" text-anchor="start" fill="#231f20" stroke="#231f20" stroke-width="0.22"  textLength="16.50" lengthAdjust="spacingAndGlyphs">ALP</text>
<text x="163.80" y="909.64" font-size="9.6" text-anchor="start" fill="#231f20" stroke="#231f20" stroke-width="0.22"  textLength="16.90" lengthAdjust="spacingAndGlyphs">FBG</text>
<text x="132.10" y="930.14" font-size="9.6" text-anchor="end" fill="#231f20" stroke="#231f20" stroke-width="0.22"  textLength="17.40" lengthAdjust="spacingAndGlyphs">SOD</text>
<text x="139.40" y="943.04" font-size="9.6" text-anchor="end" fill="#231f20" stroke="#231f20" stroke-width="0.22"  textLength="16.50" lengthAdjust="spacingAndGlyphs">DBP</text>
<text x="159.90" y="939.34" font-size="9.6" text-anchor="start" fill="#231f20" stroke="#231f20" stroke-width="0.22"  textLength="16.80" lengthAdjust="spacingAndGlyphs">SBP</text>
<text x="189.30" y="938.54" font-size="9.6" text-anchor="start" fill="#231f20" stroke="#231f20" stroke-width="0.22"  textLength="14.50" lengthAdjust="spacingAndGlyphs">BMI</text>
<text x="148.10" y="959.04" font-size="9.6" text-anchor="start" fill="#231f20" stroke="#231f20" stroke-width="0.22"  textLength="15.00" lengthAdjust="spacingAndGlyphs">WC</text>
<text x="117.90" y="965.34" font-size="9.6" text-anchor="start" fill="#231f20" stroke="#231f20" stroke-width="0.22"  textLength="11.80" lengthAdjust="spacingAndGlyphs">UA</text>
<text x="178.80" y="978.74" font-size="9.6" text-anchor="start" fill="#231f20" stroke="#231f20" stroke-width="0.22"  textLength="28.90" lengthAdjust="spacingAndGlyphs">Insulin</text>
<text x="71.80" y="924.64" font-size="9.6" text-anchor="start" fill="#231f20" stroke="#231f20" stroke-width="0.22"  textLength="18.50" lengthAdjust="spacingAndGlyphs">IL-1β</text>
<text x="75.50" y="944.34" font-size="9.6" text-anchor="start" fill="#231f20" stroke="#231f20" stroke-width="0.22"  textLength="16.00" lengthAdjust="spacingAndGlyphs">TNF</text>
<text x="77.60" y="974.34" font-size="9.6" text-anchor="start" fill="#231f20" stroke="#231f20" stroke-width="0.22"  textLength="11.40" lengthAdjust="spacingAndGlyphs">TG</text>
<text x="65.30" y="1014.84" font-size="9.6" text-anchor="start" fill="#231f20" stroke="#231f20" stroke-width="0.22"  textLength="12.00" lengthAdjust="spacingAndGlyphs">TC</text>
<text x="79.90" y="1031.74" font-size="9.6" text-anchor="start" fill="#231f20" stroke="#231f20" stroke-width="0.22"  textLength="26.00" lengthAdjust="spacingAndGlyphs">LDL-C</text>
<line x1="371.00" y1="540.50" x2="371.00" y2="1037.00" stroke="#505050" stroke-width="1" />
<line x1="646.50" y1="540.50" x2="646.50" y2="1037.00" stroke="#505050" stroke-width="1" />
<line x1="371.50" y1="541.00" x2="646.00" y2="541.00" stroke="#505050" stroke-width="1" />
<line x1="371.50" y1="1036.50" x2="646.00" y2="1036.50" stroke="#505050" stroke-width="1" />
<line x1="508.70" y1="541.50" x2="508.70" y2="1036.00" stroke="#e3878f" stroke-width="2.5" />
<line x1="377.50" y1="1036.50" x2="377.50" y2="1039.50" stroke="#4d4d4d" stroke-width="1" />
<text x="377.50" y="1052.98" font-size="10" text-anchor="middle" fill="#231f20" stroke="#231f20" stroke-width="0.22" >0.1</text>
<line x1="449.90" y1="1036.50" x2="449.90" y2="1039.50" stroke="#4d4d4d" stroke-width="1" />
<text x="449.90" y="1052.98" font-size="10" text-anchor="middle" fill="#231f20" stroke="#231f20" stroke-width="0.22" >1.0</text>
<line x1="500.51" y1="1036.50" x2="500.51" y2="1039.50" stroke="#4d4d4d" stroke-width="1" />
<text x="500.51" y="1052.98" font-size="10" text-anchor="middle" fill="#231f20" stroke="#231f20" stroke-width="0.22" >5.0</text>
<line x1="449.90" y1="571.00" x2="449.90" y2="1036.50" stroke="#5e5e5e" stroke-width="1.1" stroke-dasharray="4.9 2.9" stroke-dashoffset="1.4"/>
<line x1="530.60" y1="1036.50" x2="530.60" y2="1039.50" stroke="#4d4d4d" stroke-width="1" />
<text x="530.60" y="1052.98" font-size="10" text-anchor="middle" fill="#231f20" stroke="#231f20" stroke-width="0.22" >0.1</text>
<line x1="595.00" y1="1036.50" x2="595.00" y2="1039.50" stroke="#4d4d4d" stroke-width="1" />
<text x="595.00" y="1052.98" font-size="10" text-anchor="middle" fill="#231f20" stroke="#231f20" stroke-width="0.22" >1.0</text>
<line x1="640.01" y1="1036.50" x2="640.01" y2="1039.50" stroke="#4d4d4d" stroke-width="1" />
<text x="640.01" y="1052.98" font-size="10" text-anchor="middle" fill="#231f20" stroke="#231f20" stroke-width="0.22" >5.0</text>
<line x1="595.00" y1="571.00" x2="595.00" y2="1036.50" stroke="#5e5e5e" stroke-width="1.1" stroke-dasharray="4.9 2.9" stroke-dashoffset="1.4"/>
<text x="415.40" y="1071.92" font-size="11.8" text-anchor="start" fill="#231f20" stroke="#231f20" stroke-width="0.22"  textLength="60.70" lengthAdjust="spacingAndGlyphs">HR (95% CI)</text>
<text x="554.30" y="1071.92" font-size="11.8" text-anchor="start" fill="#231f20" stroke="#231f20" stroke-width="0.22"  textLength="60.70" lengthAdjust="spacingAndGlyphs">HR (95% CI)</text>
<text x="437.40" y="559.81" font-size="11.2" text-anchor="middle" fill="#d0393b" stroke="#d0393b" stroke-width="0.22"  textLength="39.60" lengthAdjust="spacingAndGlyphs">Model 1</text>
<text x="575.80" y="559.81" font-size="11.2" text-anchor="middle" fill="#d0393b" stroke="#d0393b" stroke-width="0.22"  textLength="39.60" lengthAdjust="spacingAndGlyphs">Model 2</text>
<text x="289.60" y="537.05" font-size="16" font-weight="bold" fill="#000" stroke="#000" stroke-width="0.6" textLength="8.80" lengthAdjust="spacingAndGlyphs">g</text>
<line x1="366.70" y1="581.10" x2="371.00" y2="581.10" stroke="#4d4d4d" stroke-width="1" />
<text x="361.70" y="577.68" font-size="11.4" text-anchor="end" fill="#231f20" stroke="#231f20" stroke-width="0.22"  textLength="37.60" lengthAdjust="spacingAndGlyphs">Overall</text>
<text x="361.70" y="590.78" font-size="11.4" text-anchor="end" fill="#231f20" stroke="#231f20" stroke-width="0.22"  textLength="50.90" lengthAdjust="spacingAndGlyphs">incidence</text>
<line x1="382.90" y1="581.10" x2="437.60" y2="581.10" stroke="#62a2d2" stroke-width="1.1" />
<line x1="382.90" y1="576.20" x2="382.90" y2="586.00" stroke="#62a2d2" stroke-width="1.1" />
<line x1="437.60" y1="576.20" x2="437.60" y2="586.00" stroke="#62a2d2" stroke-width="1.1" />
<circle cx="410.00" cy="581.10" r="7.0" fill="#1a72b0"/>
<line x1="535.60" y1="581.10" x2="583.80" y2="581.10" stroke="#62a2d2" stroke-width="1.1" />
<line x1="535.60" y1="576.20" x2="535.60" y2="586.00" stroke="#62a2d2" stroke-width="1.1" />
<line x1="583.80" y1="576.20" x2="583.80" y2="586.00" stroke="#62a2d2" stroke-width="1.1" />
<circle cx="559.10" cy="581.10" r="7.0" fill="#1a72b0"/>
<line x1="366.70" y1="629.23" x2="371.00" y2="629.23" stroke="#4d4d4d" stroke-width="1" />
<text x="361.70" y="632.81" font-size="11.4" text-anchor="end" fill="#231f20" stroke="#231f20" stroke-width="0.22"  textLength="19.60" lengthAdjust="spacingAndGlyphs">T2D</text>
<line x1="408.50" y1="629.23" x2="443.80" y2="629.23" stroke="#62a2d2" stroke-width="1.1" />
<line x1="408.50" y1="624.33" x2="408.50" y2="634.13" stroke="#62a2d2" stroke-width="1.1" />
<line x1="443.80" y1="624.33" x2="443.80" y2="634.13" stroke="#62a2d2" stroke-width="1.1" />
<circle cx="426.10" cy="629.23" r="7.0" fill="#1a72b0"/>
<line x1="537.90" y1="629.23" x2="583.80" y2="629.23" stroke="#62a2d2" stroke-width="1.1" />
<line x1="537.90" y1="624.33" x2="537.90" y2="634.13" stroke="#62a2d2" stroke-width="1.1" />
<line x1="583.80" y1="624.33" x2="583.80" y2="634.13" stroke="#62a2d2" stroke-width="1.1" />
<circle cx="559.70" cy="629.23" r="7.0" fill="#1a72b0"/>
<line x1="366.70" y1="677.36" x2="371.00" y2="677.36" stroke="#4d4d4d" stroke-width="1" />
<text x="361.70" y="680.94" font-size="11.4" text-anchor="end" fill="#231f20" stroke="#231f20" stroke-width="0.22"  textLength="66.80" lengthAdjust="spacingAndGlyphs">Dyslipidemia</text>
<line x1="427.10" y1="677.36" x2="448.30" y2="677.36" stroke="#62a2d2" stroke-width="1.1" />
<line x1="427.10" y1="672.46" x2="427.10" y2="682.26" stroke="#62a2d2" stroke-width="1.1" />
<line x1="448.30" y1="672.46" x2="448.30" y2="682.26" stroke="#62a2d2" stroke-width="1.1" />
<circle cx="437.40" cy="677.36" r="7.0" fill="#1a72b0"/>
<line x1="565.50" y1="677.36" x2="592.80" y2="677.36" stroke="#62a2d2" stroke-width="1.1" />
<line x1="565.50" y1="672.46" x2="565.50" y2="682.26" stroke="#62a2d2" stroke-width="1.1" />
<line x1="592.80" y1="672.46" x2="592.80" y2="682.26" stroke="#62a2d2" stroke-width="1.1" />
<circle cx="579.00" cy="677.36" r="7.0" fill="#1a72b0"/>
<line x1="366.70" y1="725.49" x2="371.00" y2="725.49" stroke="#4d4d4d" stroke-width="1" />
<text x="361.70" y="729.07" font-size="11.4" text-anchor="end" fill="#231f20" stroke="#231f20" stroke-width="0.22"  textLength="50.60" lengthAdjust="spacingAndGlyphs">Fatty liver</text>
<line x1="417.40" y1="725.49" x2="434.10" y2="725.49" stroke="#62a2d2" stroke-width="1.1" />
<line x1="417.40" y1="720.59" x2="417.40" y2="730.39" stroke="#62a2d2" stroke-width="1.1" />
<line x1="434.10" y1="720.59" x2="434.10" y2="730.39" stroke="#62a2d2" stroke-width="1.1" />
<circle cx="425.50" cy="725.49" r="7.0" fill="#1a72b0"/>
<line x1="516.40" y1="725.49" x2="582.90" y2="725.49" stroke="#62a2d2" stroke-width="1.1" />
<line x1="516.40" y1="720.59" x2="516.40" y2="730.39" stroke="#62a2d2" stroke-width="1.1" />
<line x1="582.90" y1="720.59" x2="582.90" y2="730.39" stroke="#62a2d2" stroke-width="1.1" />
<circle cx="549.50" cy="725.49" r="7.0" fill="#1a72b0"/>
<line x1="366.70" y1="773.62" x2="371.00" y2="773.62" stroke="#4d4d4d" stroke-width="1" />
<text x="361.70" y="777.20" font-size="11.4" text-anchor="end" fill="#231f20" stroke="#231f20" stroke-width="0.22"  textLength="69.00" lengthAdjust="spacingAndGlyphs">Hypertension</text>
<line x1="421.30" y1="773.62" x2="447.60" y2="773.62" stroke="#62a2d2" stroke-width="1.1" />
<line x1="421.30" y1="768.72" x2="421.30" y2="778.52" stroke="#62a2d2" stroke-width="1.1" />
<line x1="447.60" y1="768.72" x2="447.60" y2="778.52" stroke="#62a2d2" stroke-width="1.1" />
<circle cx="433.50" cy="773.62" r="7.0" fill="#1a72b0"/>
<line x1="573.20" y1="773.62" x2="610.50" y2="773.62" stroke="#c4c4c4" stroke-width="1.1" />
<line x1="573.20" y1="768.72" x2="573.20" y2="778.52" stroke="#c4c4c4" stroke-width="1.1" />
<line x1="610.50" y1="768.72" x2="610.50" y2="778.52" stroke="#c4c4c4" stroke-width="1.1" />
<circle cx="591.80" cy="773.62" r="6.1" fill="none" stroke="#9c9c9c" stroke-width="0.9"/>
<line x1="366.70" y1="821.75" x2="371.00" y2="821.75" stroke="#4d4d4d" stroke-width="1" />
<text x="361.70" y="825.33" font-size="11.4" text-anchor="end" fill="#231f20" stroke="#231f20" stroke-width="0.22"  textLength="33.50" lengthAdjust="spacingAndGlyphs">Stroke</text>
<line x1="397.50" y1="821.75" x2="459.40" y2="821.75" stroke="#c4c4c4" stroke-width="1.1" />
<line x1="397.50" y1="816.85" x2="397.50" y2="826.65" stroke="#c4c4c4" stroke-width="1.1" />
<line x1="459.40" y1="816.85" x2="459.40" y2="826.65" stroke="#c4c4c4" stroke-width="1.1" />
<circle cx="428.00" cy="821.75" r="6.1" fill="none" stroke="#9c9c9c" stroke-width="0.9"/>
<line x1="552.30" y1="821.75" x2="627.20" y2="821.75" stroke="#c4c4c4" stroke-width="1.1" />
<line x1="552.30" y1="816.85" x2="552.30" y2="826.65" stroke="#c4c4c4" stroke-width="1.1" />
<line x1="627.20" y1="816.85" x2="627.20" y2="826.65" stroke="#c4c4c4" stroke-width="1.1" />
<circle cx="589.60" cy="821.75" r="6.1" fill="none" stroke="#9c9c9c" stroke-width="0.9"/>
<line x1="366.70" y1="869.88" x2="371.00" y2="869.88" stroke="#4d4d4d" stroke-width="1" />
<text x="361.70" y="873.46" font-size="11.4" text-anchor="end" fill="#231f20" stroke="#231f20" stroke-width="0.22"  textLength="23.90" lengthAdjust="spacingAndGlyphs">CHD</text>
<line x1="439.90" y1="869.88" x2="464.00" y2="869.88" stroke="#c4c4c4" stroke-width="1.1" />
<line x1="439.90" y1="864.98" x2="439.90" y2="874.78" stroke="#c4c4c4" stroke-width="1.1" />
<line x1="464.00" y1="864.98" x2="464.00" y2="874.78" stroke="#c4c4c4" stroke-width="1.1" />
<circle cx="451.80" cy="869.88" r="6.1" fill="none" stroke="#9c9c9c" stroke-width="0.9"/>
<line x1="585.40" y1="869.88" x2="617.50" y2="869.88" stroke="#c4c4c4" stroke-width="1.1" />
<line x1="585.40" y1="864.98" x2="585.40" y2="874.78" stroke="#c4c4c4" stroke-width="1.1" />
<line x1="617.50" y1="864.98" x2="617.50" y2="874.78" stroke="#c4c4c4" stroke-width="1.1" />
<circle cx="601.50" cy="869.88" r="6.1" fill="none" stroke="#9c9c9c" stroke-width="0.9"/>
<line x1="366.70" y1="918.01" x2="371.00" y2="918.01" stroke="#4d4d4d" stroke-width="1" />
<text x="361.70" y="921.59" font-size="11.4" text-anchor="end" fill="#231f20" stroke="#231f20" stroke-width="0.22"  textLength="25.50" lengthAdjust="spacingAndGlyphs">Gout</text>
<line x1="395.60" y1="918.01" x2="442.80" y2="918.01" stroke="#c4c4c4" stroke-width="1.1" />
<line x1="395.60" y1="913.11" x2="395.60" y2="922.91" stroke="#c4c4c4" stroke-width="1.1" />
<line x1="442.80" y1="913.11" x2="442.80" y2="922.91" stroke="#c4c4c4" stroke-width="1.1" />
<circle cx="420.30" cy="918.01" r="6.1" fill="none" stroke="#9c9c9c" stroke-width="0.9"/>
<line x1="562.90" y1="918.01" x2="626.20" y2="918.01" stroke="#c4c4c4" stroke-width="1.1" />
<line x1="562.90" y1="913.11" x2="562.90" y2="922.91" stroke="#c4c4c4" stroke-width="1.1" />
<line x1="626.20" y1="913.11" x2="626.20" y2="922.91" stroke="#c4c4c4" stroke-width="1.1" />
<circle cx="594.40" cy="918.01" r="6.1" fill="none" stroke="#9c9c9c" stroke-width="0.9"/>
<line x1="366.70" y1="966.14" x2="371.00" y2="966.14" stroke="#4d4d4d" stroke-width="1" />
<text x="361.70" y="969.72" font-size="11.4" text-anchor="end" fill="#231f20" stroke="#231f20" stroke-width="0.22"  textLength="14.30" lengthAdjust="spacingAndGlyphs">RA</text>
<line x1="435.10" y1="966.14" x2="478.50" y2="966.14" stroke="#c4c4c4" stroke-width="1.1" />
<line x1="435.10" y1="961.24" x2="435.10" y2="971.04" stroke="#c4c4c4" stroke-width="1.1" />
<line x1="478.50" y1="961.24" x2="478.50" y2="971.04" stroke="#c4c4c4" stroke-width="1.1" />
<circle cx="456.60" cy="966.14" r="6.1" fill="none" stroke="#9c9c9c" stroke-width="0.9"/>
<line x1="567.10" y1="966.14" x2="633.00" y2="966.14" stroke="#c4c4c4" stroke-width="1.1" />
<line x1="567.10" y1="961.24" x2="567.10" y2="971.04" stroke="#c4c4c4" stroke-width="1.1" />
<line x1="633.00" y1="961.24" x2="633.00" y2="971.04" stroke="#c4c4c4" stroke-width="1.1" />
<circle cx="599.90" cy="966.14" r="6.1" fill="none" stroke="#9c9c9c" stroke-width="0.9"/>
<line x1="366.70" y1="1014.27" x2="371.00" y2="1014.27" stroke="#4d4d4d" stroke-width="1" />
<text x="361.70" y="1017.85" font-size="11.4" text-anchor="end" fill="#231f20" stroke="#231f20" stroke-width="0.22"  textLength="44.10" lengthAdjust="spacingAndGlyphs">Cataract</text>
<line x1="441.50" y1="1014.27" x2="457.30" y2="1014.27" stroke="#c4c4c4" stroke-width="1.1" />
<line x1="441.50" y1="1009.37" x2="441.50" y2="1019.17" stroke="#c4c4c4" stroke-width="1.1" />
<line x1="457.30" y1="1009.37" x2="457.30" y2="1019.17" stroke="#c4c4c4" stroke-width="1.1" />
<circle cx="449.60" cy="1014.27" r="6.1" fill="none" stroke="#9c9c9c" stroke-width="0.9"/>
<line x1="584.50" y1="1014.27" x2="606.30" y2="1014.27" stroke="#c4c4c4" stroke-width="1.1" />
<line x1="584.50" y1="1009.37" x2="584.50" y2="1019.17" stroke="#c4c4c4" stroke-width="1.1" />
<line x1="606.30" y1="1009.37" x2="606.30" y2="1019.17" stroke="#c4c4c4" stroke-width="1.1" />
<circle cx="595.10" cy="1014.27" r="6.1" fill="none" stroke="#9c9c9c" stroke-width="0.9"/>
</svg>
</body></html>
